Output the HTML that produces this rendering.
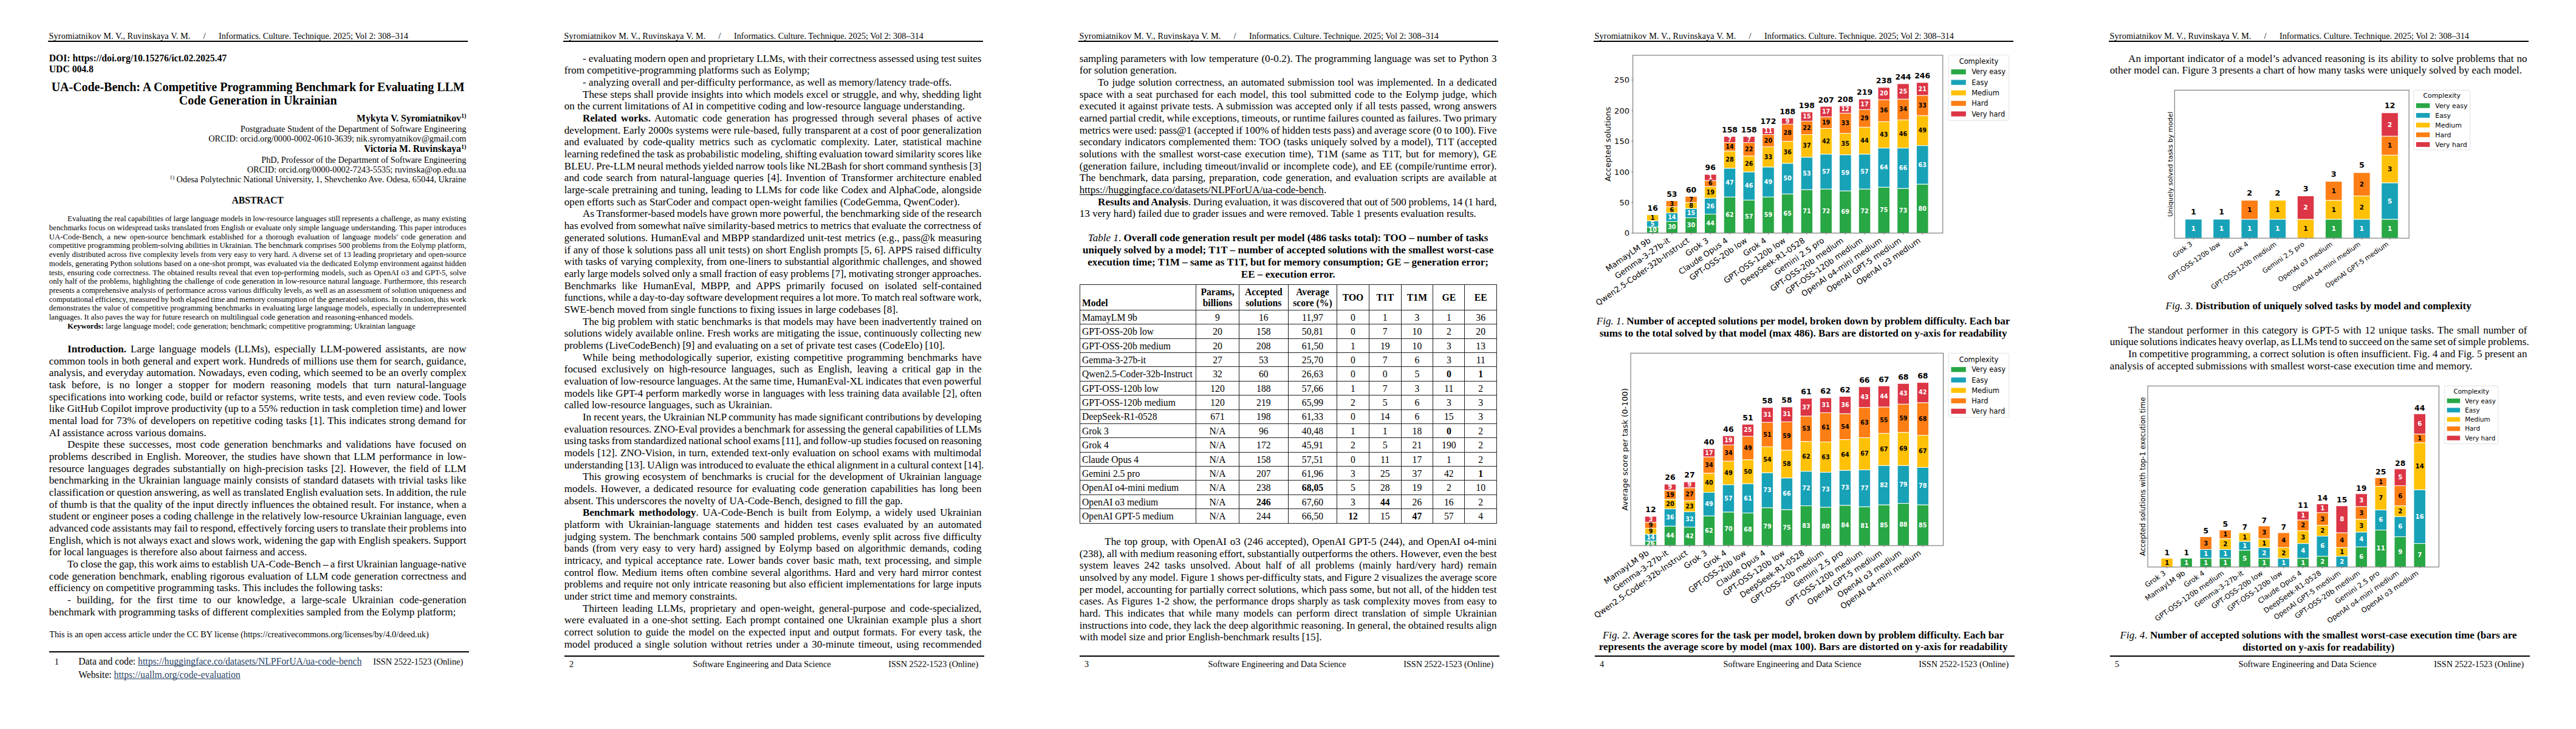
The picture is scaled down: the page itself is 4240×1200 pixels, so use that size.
<!DOCTYPE html><html><head><meta charset="utf-8"><title>UA-Code-Bench</title><style>
*{margin:0;padding:0;box-sizing:border-box}
html,body{width:4240px;height:1200px;overflow:hidden;background:#fff}
body{position:relative;font-family:"Liberation Serif","Times New Roman",serif;color:#000}
.l{position:absolute;white-space:nowrap;line-height:1}
.rule{position:absolute;height:2px;background:#000}
.sup{font-size:0.65em;position:relative;top:-0.55em}
.lnk{color:#2a4466;text-decoration:underline;text-decoration-thickness:1px;text-underline-offset:1.4px;text-decoration-skip-ink:none}
u{text-decoration-thickness:1px;text-underline-offset:1.6px;text-decoration-skip-ink:none}
.pg{position:absolute;top:0;width:848px;height:1200px}
svg text{font-family:"DejaVu Sans",sans-serif}
</style></head><body>
<div class="rule" style="left:78.80px;top:67.0px;width:690.85px"></div>
<div class="rule" style="left:926.80px;top:67.0px;width:690.85px"></div>
<div class="rule" style="left:928.90px;top:1079.0px;width:690.90px"></div>
<div class="rule" style="left:1774.80px;top:67.0px;width:690.85px"></div>
<div class="rule" style="left:1776.90px;top:1079.0px;width:690.90px"></div>
<div class="rule" style="left:2622.80px;top:67.0px;width:690.85px"></div>
<div class="rule" style="left:2624.90px;top:1079.0px;width:690.90px"></div>
<div class="rule" style="left:3470.80px;top:67.0px;width:690.85px"></div>
<div class="rule" style="left:3472.90px;top:1079.0px;width:690.90px"></div>
<div class="rule" style="left:80.90px;top:1072.2px;width:690.90px"></div>
<div style="position:absolute;left:1777px;top:468px;width:687px;height:1px;background:#202020"></div>
<div style="position:absolute;left:1777px;top:510px;width:687px;height:1px;background:#202020"></div>
<div style="position:absolute;left:1777px;top:533px;width:687px;height:1px;background:#202020"></div>
<div style="position:absolute;left:1777px;top:557px;width:687px;height:1px;background:#202020"></div>
<div style="position:absolute;left:1777px;top:580px;width:687px;height:1px;background:#202020"></div>
<div style="position:absolute;left:1777px;top:603px;width:687px;height:1px;background:#202020"></div>
<div style="position:absolute;left:1777px;top:627px;width:687px;height:1px;background:#202020"></div>
<div style="position:absolute;left:1777px;top:650px;width:687px;height:1px;background:#202020"></div>
<div style="position:absolute;left:1777px;top:674px;width:687px;height:1px;background:#202020"></div>
<div style="position:absolute;left:1777px;top:697px;width:687px;height:1px;background:#202020"></div>
<div style="position:absolute;left:1777px;top:720px;width:687px;height:1px;background:#202020"></div>
<div style="position:absolute;left:1777px;top:744px;width:687px;height:1px;background:#202020"></div>
<div style="position:absolute;left:1777px;top:767px;width:687px;height:1px;background:#202020"></div>
<div style="position:absolute;left:1777px;top:790px;width:687px;height:1px;background:#202020"></div>
<div style="position:absolute;left:1777px;top:814px;width:687px;height:1px;background:#202020"></div>
<div style="position:absolute;left:1777px;top:837px;width:687px;height:1px;background:#202020"></div>
<div style="position:absolute;left:1777px;top:861px;width:687px;height:1px;background:#202020"></div>
<div style="position:absolute;left:1777px;top:468px;width:1px;height:394px;background:#202020"></div>
<div style="position:absolute;left:1968px;top:468px;width:1px;height:394px;background:#202020"></div>
<div style="position:absolute;left:2039px;top:468px;width:1px;height:394px;background:#202020"></div>
<div style="position:absolute;left:2120px;top:468px;width:1px;height:394px;background:#202020"></div>
<div style="position:absolute;left:2200px;top:468px;width:1px;height:394px;background:#202020"></div>
<div style="position:absolute;left:2253px;top:468px;width:1px;height:394px;background:#202020"></div>
<div style="position:absolute;left:2306px;top:468px;width:1px;height:394px;background:#202020"></div>
<div style="position:absolute;left:2358px;top:468px;width:1px;height:394px;background:#202020"></div>
<div style="position:absolute;left:2410px;top:468px;width:1px;height:394px;background:#202020"></div>
<div style="position:absolute;left:2463px;top:468px;width:1px;height:394px;background:#202020"></div>
<svg style="position:absolute;left:0;top:0" width="4240" height="1200" viewBox="0 0 4240 1200">
<rect x="2710.35" y="373.62" width="19.60" height="10.08" fill="#28a745" stroke="#fff" stroke-width="1.0"/>
<rect x="2710.35" y="363.55" width="19.60" height="10.08" fill="#17a2b8" stroke="#fff" stroke-width="1.0"/>
<rect x="2710.35" y="353.47" width="19.60" height="10.08" fill="#ffc107" stroke="#fff" stroke-width="1.0"/>
<text x="2720.15" y="346.87" font-size="12.5" font-weight="bold" fill="#000" text-anchor="middle">16</text>
<line x1="2720.15" y1="383.70" x2="2720.15" y2="386.10" stroke="#444" stroke-width="0.8"/>
<text transform="translate(2718.05,397.90) rotate(-35)" font-size="13.0" fill="#000" text-anchor="end">MamayLM 9b</text>
<rect x="2742.07" y="364.56" width="19.60" height="19.14" fill="#28a745" stroke="#fff" stroke-width="1.0"/>
<rect x="2742.07" y="350.45" width="19.60" height="14.11" fill="#17a2b8" stroke="#fff" stroke-width="1.0"/>
<rect x="2742.07" y="340.37" width="19.60" height="10.08" fill="#ffc107" stroke="#fff" stroke-width="1.0"/>
<rect x="2742.07" y="330.30" width="19.60" height="10.08" fill="#fd7e14" stroke="#fff" stroke-width="1.0"/>
<text x="2751.87" y="323.70" font-size="12.5" font-weight="bold" fill="#000" text-anchor="middle">53</text>
<line x1="2751.87" y1="383.70" x2="2751.87" y2="386.10" stroke="#444" stroke-width="0.8"/>
<text transform="translate(2749.77,397.90) rotate(-35)" font-size="13.0" fill="#000" text-anchor="end">Gemma-3-27b-it</text>
<rect x="2773.79" y="358.51" width="19.60" height="25.19" fill="#28a745" stroke="#fff" stroke-width="1.0"/>
<rect x="2773.79" y="343.40" width="19.60" height="15.11" fill="#17a2b8" stroke="#fff" stroke-width="1.0"/>
<rect x="2773.79" y="333.32" width="19.60" height="10.08" fill="#ffc107" stroke="#fff" stroke-width="1.0"/>
<rect x="2773.79" y="323.24" width="19.60" height="10.08" fill="#fd7e14" stroke="#fff" stroke-width="1.0"/>
<text x="2783.59" y="316.64" font-size="12.5" font-weight="bold" fill="#000" text-anchor="middle">60</text>
<line x1="2783.59" y1="383.70" x2="2783.59" y2="386.10" stroke="#444" stroke-width="0.8"/>
<text transform="translate(2781.49,397.90) rotate(-35)" font-size="13.0" fill="#000" text-anchor="end">Qwen2.5-Coder-32b-Instruct</text>
<rect x="2805.51" y="352.46" width="19.60" height="31.24" fill="#28a745" stroke="#fff" stroke-width="1.0"/>
<rect x="2805.51" y="326.27" width="19.60" height="26.20" fill="#17a2b8" stroke="#fff" stroke-width="1.0"/>
<rect x="2805.51" y="307.12" width="19.60" height="19.14" fill="#ffc107" stroke="#fff" stroke-width="1.0"/>
<rect x="2805.51" y="297.05" width="19.60" height="10.08" fill="#fd7e14" stroke="#fff" stroke-width="1.0"/>
<rect x="2805.51" y="286.97" width="19.60" height="10.08" fill="#dc3545" stroke="#fff" stroke-width="1.0"/>
<text x="2815.31" y="280.37" font-size="12.5" font-weight="bold" fill="#000" text-anchor="middle">96</text>
<line x1="2815.31" y1="383.70" x2="2815.31" y2="386.10" stroke="#444" stroke-width="0.8"/>
<text transform="translate(2813.21,397.90) rotate(-35)" font-size="13.0" fill="#000" text-anchor="end">Grok 3</text>
<rect x="2837.23" y="324.25" width="19.60" height="59.45" fill="#28a745" stroke="#fff" stroke-width="1.0"/>
<rect x="2837.23" y="276.89" width="19.60" height="47.36" fill="#17a2b8" stroke="#fff" stroke-width="1.0"/>
<rect x="2837.23" y="248.68" width="19.60" height="28.21" fill="#ffc107" stroke="#fff" stroke-width="1.0"/>
<rect x="2837.23" y="234.58" width="19.60" height="14.11" fill="#fd7e14" stroke="#fff" stroke-width="1.0"/>
<rect x="2837.23" y="224.50" width="19.60" height="10.08" fill="#dc3545" stroke="#fff" stroke-width="1.0"/>
<text x="2847.03" y="217.90" font-size="12.5" font-weight="bold" fill="#000" text-anchor="middle">158</text>
<line x1="2847.03" y1="383.70" x2="2847.03" y2="386.10" stroke="#444" stroke-width="0.8"/>
<text transform="translate(2844.93,397.90) rotate(-35)" font-size="13.0" fill="#000" text-anchor="end">Claude Opus 4</text>
<rect x="2868.95" y="329.29" width="19.60" height="54.41" fill="#28a745" stroke="#fff" stroke-width="1.0"/>
<rect x="2868.95" y="282.94" width="19.60" height="46.35" fill="#17a2b8" stroke="#fff" stroke-width="1.0"/>
<rect x="2868.95" y="256.74" width="19.60" height="26.20" fill="#ffc107" stroke="#fff" stroke-width="1.0"/>
<rect x="2868.95" y="234.58" width="19.60" height="22.17" fill="#fd7e14" stroke="#fff" stroke-width="1.0"/>
<rect x="2868.95" y="224.50" width="19.60" height="10.08" fill="#dc3545" stroke="#fff" stroke-width="1.0"/>
<text x="2878.75" y="217.90" font-size="12.5" font-weight="bold" fill="#000" text-anchor="middle">158</text>
<line x1="2878.75" y1="383.70" x2="2878.75" y2="386.10" stroke="#444" stroke-width="0.8"/>
<text transform="translate(2876.65,397.90) rotate(-35)" font-size="13.0" fill="#000" text-anchor="end">GPT-OSS-20b low</text>
<rect x="2900.67" y="324.25" width="19.60" height="59.45" fill="#28a745" stroke="#fff" stroke-width="1.0"/>
<rect x="2900.67" y="274.88" width="19.60" height="49.37" fill="#17a2b8" stroke="#fff" stroke-width="1.0"/>
<rect x="2900.67" y="241.63" width="19.60" height="33.25" fill="#ffc107" stroke="#fff" stroke-width="1.0"/>
<rect x="2900.67" y="221.48" width="19.60" height="20.15" fill="#fd7e14" stroke="#fff" stroke-width="1.0"/>
<rect x="2900.67" y="210.39" width="19.60" height="11.08" fill="#dc3545" stroke="#fff" stroke-width="1.0"/>
<text x="2910.47" y="203.79" font-size="12.5" font-weight="bold" fill="#000" text-anchor="middle">172</text>
<line x1="2910.47" y1="383.70" x2="2910.47" y2="386.10" stroke="#444" stroke-width="0.8"/>
<text transform="translate(2908.37,397.90) rotate(-35)" font-size="13.0" fill="#000" text-anchor="end">Grok 4</text>
<rect x="2932.39" y="319.21" width="19.60" height="64.49" fill="#28a745" stroke="#fff" stroke-width="1.0"/>
<rect x="2932.39" y="268.83" width="19.60" height="50.38" fill="#17a2b8" stroke="#fff" stroke-width="1.0"/>
<rect x="2932.39" y="232.56" width="19.60" height="36.27" fill="#ffc107" stroke="#fff" stroke-width="1.0"/>
<rect x="2932.39" y="204.35" width="19.60" height="28.21" fill="#fd7e14" stroke="#fff" stroke-width="1.0"/>
<rect x="2932.39" y="194.27" width="19.60" height="10.08" fill="#dc3545" stroke="#fff" stroke-width="1.0"/>
<text x="2942.19" y="187.67" font-size="12.5" font-weight="bold" fill="#000" text-anchor="middle">188</text>
<line x1="2942.19" y1="383.70" x2="2942.19" y2="386.10" stroke="#444" stroke-width="0.8"/>
<text transform="translate(2940.09,397.90) rotate(-35)" font-size="13.0" fill="#000" text-anchor="end">GPT-OSS-120b low</text>
<rect x="2964.11" y="312.16" width="19.60" height="71.54" fill="#28a745" stroke="#fff" stroke-width="1.0"/>
<rect x="2964.11" y="258.76" width="19.60" height="53.40" fill="#17a2b8" stroke="#fff" stroke-width="1.0"/>
<rect x="2964.11" y="221.48" width="19.60" height="37.28" fill="#ffc107" stroke="#fff" stroke-width="1.0"/>
<rect x="2964.11" y="199.31" width="19.60" height="22.17" fill="#fd7e14" stroke="#fff" stroke-width="1.0"/>
<rect x="2964.11" y="184.20" width="19.60" height="15.11" fill="#dc3545" stroke="#fff" stroke-width="1.0"/>
<text x="2973.91" y="177.60" font-size="12.5" font-weight="bold" fill="#000" text-anchor="middle">198</text>
<line x1="2973.91" y1="383.70" x2="2973.91" y2="386.10" stroke="#444" stroke-width="0.8"/>
<text transform="translate(2971.81,397.90) rotate(-35)" font-size="13.0" fill="#000" text-anchor="end">DeepSeek-R1-0528</text>
<rect x="2995.83" y="311.15" width="19.60" height="72.55" fill="#28a745" stroke="#fff" stroke-width="1.0"/>
<rect x="2995.83" y="253.72" width="19.60" height="57.43" fill="#17a2b8" stroke="#fff" stroke-width="1.0"/>
<rect x="2995.83" y="211.40" width="19.60" height="42.32" fill="#ffc107" stroke="#fff" stroke-width="1.0"/>
<rect x="2995.83" y="192.26" width="19.60" height="19.14" fill="#fd7e14" stroke="#fff" stroke-width="1.0"/>
<rect x="2995.83" y="175.13" width="19.60" height="17.13" fill="#dc3545" stroke="#fff" stroke-width="1.0"/>
<text x="3005.63" y="168.53" font-size="12.5" font-weight="bold" fill="#000" text-anchor="middle">207</text>
<line x1="3005.63" y1="383.70" x2="3005.63" y2="386.10" stroke="#444" stroke-width="0.8"/>
<text transform="translate(3003.53,397.90) rotate(-35)" font-size="13.0" fill="#000" text-anchor="end">Gemini 2.5 pro</text>
<rect x="3027.55" y="314.18" width="19.60" height="69.52" fill="#28a745" stroke="#fff" stroke-width="1.0"/>
<rect x="3027.55" y="254.73" width="19.60" height="59.45" fill="#17a2b8" stroke="#fff" stroke-width="1.0"/>
<rect x="3027.55" y="219.46" width="19.60" height="35.27" fill="#ffc107" stroke="#fff" stroke-width="1.0"/>
<rect x="3027.55" y="186.21" width="19.60" height="33.25" fill="#fd7e14" stroke="#fff" stroke-width="1.0"/>
<rect x="3027.55" y="174.12" width="19.60" height="12.09" fill="#dc3545" stroke="#fff" stroke-width="1.0"/>
<text x="3037.35" y="167.52" font-size="12.5" font-weight="bold" fill="#000" text-anchor="middle">208</text>
<line x1="3037.35" y1="383.70" x2="3037.35" y2="386.10" stroke="#444" stroke-width="0.8"/>
<text transform="translate(3035.25,397.90) rotate(-35)" font-size="13.0" fill="#000" text-anchor="end">GPT-OSS-20b medium</text>
<rect x="3059.27" y="311.15" width="19.60" height="72.55" fill="#28a745" stroke="#fff" stroke-width="1.0"/>
<rect x="3059.27" y="253.72" width="19.60" height="57.43" fill="#17a2b8" stroke="#fff" stroke-width="1.0"/>
<rect x="3059.27" y="209.39" width="19.60" height="44.33" fill="#ffc107" stroke="#fff" stroke-width="1.0"/>
<rect x="3059.27" y="180.16" width="19.60" height="29.22" fill="#fd7e14" stroke="#fff" stroke-width="1.0"/>
<rect x="3059.27" y="163.04" width="19.60" height="17.13" fill="#dc3545" stroke="#fff" stroke-width="1.0"/>
<text x="3069.07" y="156.44" font-size="12.5" font-weight="bold" fill="#000" text-anchor="middle">219</text>
<line x1="3069.07" y1="383.70" x2="3069.07" y2="386.10" stroke="#444" stroke-width="0.8"/>
<text transform="translate(3066.97,397.90) rotate(-35)" font-size="13.0" fill="#000" text-anchor="end">GPT-OSS-120b medium</text>
<rect x="3090.99" y="308.13" width="19.60" height="75.57" fill="#28a745" stroke="#fff" stroke-width="1.0"/>
<rect x="3090.99" y="243.64" width="19.60" height="64.49" fill="#17a2b8" stroke="#fff" stroke-width="1.0"/>
<rect x="3090.99" y="200.32" width="19.60" height="43.33" fill="#ffc107" stroke="#fff" stroke-width="1.0"/>
<rect x="3090.99" y="164.04" width="19.60" height="36.27" fill="#fd7e14" stroke="#fff" stroke-width="1.0"/>
<rect x="3090.99" y="143.89" width="19.60" height="20.15" fill="#dc3545" stroke="#fff" stroke-width="1.0"/>
<text x="3100.79" y="137.29" font-size="12.5" font-weight="bold" fill="#000" text-anchor="middle">238</text>
<line x1="3100.79" y1="383.70" x2="3100.79" y2="386.10" stroke="#444" stroke-width="0.8"/>
<text transform="translate(3098.69,397.90) rotate(-35)" font-size="13.0" fill="#000" text-anchor="end">OpenAI o4-mini medium</text>
<rect x="3122.71" y="310.15" width="19.60" height="73.55" fill="#28a745" stroke="#fff" stroke-width="1.0"/>
<rect x="3122.71" y="243.64" width="19.60" height="66.50" fill="#17a2b8" stroke="#fff" stroke-width="1.0"/>
<rect x="3122.71" y="197.29" width="19.60" height="46.35" fill="#ffc107" stroke="#fff" stroke-width="1.0"/>
<rect x="3122.71" y="163.04" width="19.60" height="34.26" fill="#fd7e14" stroke="#fff" stroke-width="1.0"/>
<rect x="3122.71" y="137.85" width="19.60" height="25.19" fill="#dc3545" stroke="#fff" stroke-width="1.0"/>
<text x="3132.51" y="131.25" font-size="12.5" font-weight="bold" fill="#000" text-anchor="middle">244</text>
<line x1="3132.51" y1="383.70" x2="3132.51" y2="386.10" stroke="#444" stroke-width="0.8"/>
<text transform="translate(3130.41,397.90) rotate(-35)" font-size="13.0" fill="#000" text-anchor="end">OpenAI GPT-5 medium</text>
<rect x="3154.43" y="303.09" width="19.60" height="80.61" fill="#28a745" stroke="#fff" stroke-width="1.0"/>
<rect x="3154.43" y="239.61" width="19.60" height="63.48" fill="#17a2b8" stroke="#fff" stroke-width="1.0"/>
<rect x="3154.43" y="190.24" width="19.60" height="49.37" fill="#ffc107" stroke="#fff" stroke-width="1.0"/>
<rect x="3154.43" y="156.99" width="19.60" height="33.25" fill="#fd7e14" stroke="#fff" stroke-width="1.0"/>
<rect x="3154.43" y="135.83" width="19.60" height="21.16" fill="#dc3545" stroke="#fff" stroke-width="1.0"/>
<text x="3164.23" y="129.23" font-size="12.5" font-weight="bold" fill="#000" text-anchor="middle">246</text>
<line x1="3164.23" y1="383.70" x2="3164.23" y2="386.10" stroke="#444" stroke-width="0.8"/>
<text transform="translate(3162.13,397.90) rotate(-35)" font-size="13.0" fill="#000" text-anchor="end">OpenAI o3 medium</text>
<text x="2720.15" y="381.96" font-size="9.7" font-weight="bold" fill="#fff" text-anchor="middle">10</text>
<text x="2720.15" y="371.88" font-size="9.7" font-weight="bold" fill="#fff" text-anchor="middle">5</text>
<text x="2720.15" y="361.81" font-size="9.7" font-weight="bold" fill="#000" text-anchor="middle">1</text>
<text x="2751.87" y="377.43" font-size="9.7" font-weight="bold" fill="#fff" text-anchor="middle">30</text>
<text x="2751.87" y="360.80" font-size="9.7" font-weight="bold" fill="#fff" text-anchor="middle">14</text>
<text x="2751.87" y="348.71" font-size="9.7" font-weight="bold" fill="#000" text-anchor="middle">6</text>
<text x="2751.87" y="338.63" font-size="9.7" font-weight="bold" fill="#000" text-anchor="middle">3</text>
<text x="2783.59" y="374.40" font-size="9.7" font-weight="bold" fill="#fff" text-anchor="middle">30</text>
<text x="2783.59" y="354.25" font-size="9.7" font-weight="bold" fill="#fff" text-anchor="middle">15</text>
<text x="2783.59" y="341.66" font-size="9.7" font-weight="bold" fill="#000" text-anchor="middle">8</text>
<text x="2783.59" y="331.58" font-size="9.7" font-weight="bold" fill="#000" text-anchor="middle">7</text>
<text x="2815.31" y="371.38" font-size="9.7" font-weight="bold" fill="#fff" text-anchor="middle">44</text>
<text x="2815.31" y="342.66" font-size="9.7" font-weight="bold" fill="#fff" text-anchor="middle">26</text>
<text x="2815.31" y="319.99" font-size="9.7" font-weight="bold" fill="#000" text-anchor="middle">19</text>
<text x="2815.31" y="305.38" font-size="9.7" font-weight="bold" fill="#000" text-anchor="middle">6</text>
<text x="2815.31" y="295.31" font-size="9.7" font-weight="bold" fill="#fff" text-anchor="middle">1</text>
<text x="2847.03" y="357.27" font-size="9.7" font-weight="bold" fill="#fff" text-anchor="middle">62</text>
<text x="2847.03" y="303.87" font-size="9.7" font-weight="bold" fill="#fff" text-anchor="middle">47</text>
<text x="2847.03" y="266.09" font-size="9.7" font-weight="bold" fill="#000" text-anchor="middle">28</text>
<text x="2847.03" y="244.93" font-size="9.7" font-weight="bold" fill="#000" text-anchor="middle">14</text>
<text x="2847.03" y="232.84" font-size="9.7" font-weight="bold" fill="#fff" text-anchor="middle">7</text>
<text x="2878.75" y="359.79" font-size="9.7" font-weight="bold" fill="#fff" text-anchor="middle">57</text>
<text x="2878.75" y="309.41" font-size="9.7" font-weight="bold" fill="#fff" text-anchor="middle">46</text>
<text x="2878.75" y="273.14" font-size="9.7" font-weight="bold" fill="#000" text-anchor="middle">26</text>
<text x="2878.75" y="248.96" font-size="9.7" font-weight="bold" fill="#000" text-anchor="middle">22</text>
<text x="2878.75" y="232.84" font-size="9.7" font-weight="bold" fill="#fff" text-anchor="middle">7</text>
<text x="2910.47" y="357.27" font-size="9.7" font-weight="bold" fill="#fff" text-anchor="middle">59</text>
<text x="2910.47" y="302.86" font-size="9.7" font-weight="bold" fill="#fff" text-anchor="middle">49</text>
<text x="2910.47" y="261.55" font-size="9.7" font-weight="bold" fill="#000" text-anchor="middle">33</text>
<text x="2910.47" y="234.85" font-size="9.7" font-weight="bold" fill="#000" text-anchor="middle">20</text>
<text x="2910.47" y="219.23" font-size="9.7" font-weight="bold" fill="#fff" text-anchor="middle">11</text>
<text x="2942.19" y="354.75" font-size="9.7" font-weight="bold" fill="#fff" text-anchor="middle">65</text>
<text x="2942.19" y="297.32" font-size="9.7" font-weight="bold" fill="#fff" text-anchor="middle">50</text>
<text x="2942.19" y="253.99" font-size="9.7" font-weight="bold" fill="#000" text-anchor="middle">36</text>
<text x="2942.19" y="221.75" font-size="9.7" font-weight="bold" fill="#000" text-anchor="middle">28</text>
<text x="2942.19" y="202.61" font-size="9.7" font-weight="bold" fill="#fff" text-anchor="middle">9</text>
<text x="2973.91" y="351.23" font-size="9.7" font-weight="bold" fill="#fff" text-anchor="middle">71</text>
<text x="2973.91" y="288.76" font-size="9.7" font-weight="bold" fill="#fff" text-anchor="middle">53</text>
<text x="2973.91" y="243.41" font-size="9.7" font-weight="bold" fill="#000" text-anchor="middle">37</text>
<text x="2973.91" y="213.69" font-size="9.7" font-weight="bold" fill="#000" text-anchor="middle">22</text>
<text x="2973.91" y="195.05" font-size="9.7" font-weight="bold" fill="#fff" text-anchor="middle">15</text>
<text x="3005.63" y="350.72" font-size="9.7" font-weight="bold" fill="#fff" text-anchor="middle">72</text>
<text x="3005.63" y="285.73" font-size="9.7" font-weight="bold" fill="#fff" text-anchor="middle">57</text>
<text x="3005.63" y="235.86" font-size="9.7" font-weight="bold" fill="#000" text-anchor="middle">42</text>
<text x="3005.63" y="205.13" font-size="9.7" font-weight="bold" fill="#000" text-anchor="middle">19</text>
<text x="3005.63" y="186.99" font-size="9.7" font-weight="bold" fill="#fff" text-anchor="middle">17</text>
<text x="3037.35" y="352.24" font-size="9.7" font-weight="bold" fill="#fff" text-anchor="middle">69</text>
<text x="3037.35" y="287.75" font-size="9.7" font-weight="bold" fill="#fff" text-anchor="middle">59</text>
<text x="3037.35" y="240.39" font-size="9.7" font-weight="bold" fill="#000" text-anchor="middle">35</text>
<text x="3037.35" y="206.13" font-size="9.7" font-weight="bold" fill="#000" text-anchor="middle">33</text>
<text x="3037.35" y="183.46" font-size="9.7" font-weight="bold" fill="#fff" text-anchor="middle">12</text>
<text x="3069.07" y="350.72" font-size="9.7" font-weight="bold" fill="#fff" text-anchor="middle">72</text>
<text x="3069.07" y="285.73" font-size="9.7" font-weight="bold" fill="#fff" text-anchor="middle">57</text>
<text x="3069.07" y="234.85" font-size="9.7" font-weight="bold" fill="#000" text-anchor="middle">44</text>
<text x="3069.07" y="198.07" font-size="9.7" font-weight="bold" fill="#000" text-anchor="middle">29</text>
<text x="3069.07" y="174.90" font-size="9.7" font-weight="bold" fill="#fff" text-anchor="middle">17</text>
<text x="3100.79" y="349.21" font-size="9.7" font-weight="bold" fill="#fff" text-anchor="middle">75</text>
<text x="3100.79" y="279.18" font-size="9.7" font-weight="bold" fill="#fff" text-anchor="middle">64</text>
<text x="3100.79" y="225.28" font-size="9.7" font-weight="bold" fill="#000" text-anchor="middle">43</text>
<text x="3100.79" y="185.48" font-size="9.7" font-weight="bold" fill="#000" text-anchor="middle">36</text>
<text x="3100.79" y="157.27" font-size="9.7" font-weight="bold" fill="#fff" text-anchor="middle">20</text>
<text x="3132.51" y="350.22" font-size="9.7" font-weight="bold" fill="#fff" text-anchor="middle">73</text>
<text x="3132.51" y="280.19" font-size="9.7" font-weight="bold" fill="#fff" text-anchor="middle">66</text>
<text x="3132.51" y="223.77" font-size="9.7" font-weight="bold" fill="#000" text-anchor="middle">46</text>
<text x="3132.51" y="183.46" font-size="9.7" font-weight="bold" fill="#000" text-anchor="middle">34</text>
<text x="3132.51" y="153.74" font-size="9.7" font-weight="bold" fill="#fff" text-anchor="middle">25</text>
<text x="3164.23" y="346.69" font-size="9.7" font-weight="bold" fill="#fff" text-anchor="middle">80</text>
<text x="3164.23" y="274.65" font-size="9.7" font-weight="bold" fill="#fff" text-anchor="middle">63</text>
<text x="3164.23" y="218.22" font-size="9.7" font-weight="bold" fill="#000" text-anchor="middle">49</text>
<text x="3164.23" y="176.91" font-size="9.7" font-weight="bold" fill="#000" text-anchor="middle">33</text>
<text x="3164.23" y="149.71" font-size="9.7" font-weight="bold" fill="#fff" text-anchor="middle">21</text>
<line x1="2685.25" y1="383.70" x2="2687.65" y2="383.70" stroke="#444" stroke-width="0.8"/>
<text x="2681.95" y="388.38" font-size="13.0" fill="#000" text-anchor="end">0</text>
<line x1="2685.25" y1="333.32" x2="2687.65" y2="333.32" stroke="#444" stroke-width="0.8"/>
<text x="2681.95" y="338.00" font-size="13.0" fill="#000" text-anchor="end">50</text>
<line x1="2685.25" y1="282.94" x2="2687.65" y2="282.94" stroke="#444" stroke-width="0.8"/>
<text x="2681.95" y="287.62" font-size="13.0" fill="#000" text-anchor="end">100</text>
<line x1="2685.25" y1="232.56" x2="2687.65" y2="232.56" stroke="#444" stroke-width="0.8"/>
<text x="2681.95" y="237.24" font-size="13.0" fill="#000" text-anchor="end">150</text>
<line x1="2685.25" y1="182.18" x2="2687.65" y2="182.18" stroke="#444" stroke-width="0.8"/>
<text x="2681.95" y="186.86" font-size="13.0" fill="#000" text-anchor="end">200</text>
<line x1="2685.25" y1="131.80" x2="2687.65" y2="131.80" stroke="#444" stroke-width="0.8"/>
<text x="2681.95" y="136.48" font-size="13.0" fill="#000" text-anchor="end">250</text>
<rect x="2687.65" y="91.00" width="510.15" height="292.70" fill="none" stroke="#666" stroke-width="1.0"/>
<text transform="translate(2651.00,237.35) rotate(-90)" font-size="13.0" fill="#000" text-anchor="middle">Accepted solutions</text>
<rect x="3207.30" y="90.80" width="99.30" height="107.80" rx="2" fill="#fff" stroke="#dcdcdc" stroke-width="0.9"/>
<text x="3256.95" y="105.20" font-size="11.45" fill="#000" text-anchor="middle">Complexity</text>
<rect x="3211.50" y="114.20" width="24.30" height="8.20" fill="#28a745"/>
<text x="3245.20" y="122.42" font-size="11.45" fill="#000">Very easy</text>
<rect x="3211.50" y="131.50" width="24.30" height="8.20" fill="#17a2b8"/>
<text x="3245.20" y="139.72" font-size="11.45" fill="#000">Easy</text>
<rect x="3211.50" y="148.80" width="24.30" height="8.20" fill="#ffc107"/>
<text x="3245.20" y="157.02" font-size="11.45" fill="#000">Medium</text>
<rect x="3211.50" y="166.10" width="24.30" height="8.20" fill="#fd7e14"/>
<text x="3245.20" y="174.32" font-size="11.45" fill="#000">Hard</text>
<rect x="3211.50" y="183.40" width="24.30" height="8.20" fill="#dc3545"/>
<text x="3245.20" y="191.62" font-size="11.45" fill="#000">Very hard</text>
<rect x="2707.25" y="890.36" width="19.50" height="7.74" fill="#28a745" stroke="#fff" stroke-width="1.0"/>
<rect x="2707.25" y="879.31" width="19.50" height="11.06" fill="#17a2b8" stroke="#fff" stroke-width="1.0"/>
<rect x="2707.25" y="869.51" width="19.50" height="9.79" fill="#ffc107" stroke="#fff" stroke-width="1.0"/>
<rect x="2707.25" y="859.72" width="19.50" height="9.79" fill="#fd7e14" stroke="#fff" stroke-width="1.0"/>
<rect x="2707.25" y="849.93" width="19.50" height="9.79" fill="#dc3545" stroke="#fff" stroke-width="1.0"/>
<text x="2717.00" y="843.33" font-size="12.5" font-weight="bold" fill="#000" text-anchor="middle">12</text>
<line x1="2717.00" y1="898.10" x2="2717.00" y2="900.50" stroke="#444" stroke-width="0.8"/>
<text transform="translate(2714.90,912.30) rotate(-35)" font-size="13.0" fill="#000" text-anchor="end">MamayLM 9b</text>
<rect x="2739.24" y="866.04" width="19.50" height="32.06" fill="#28a745" stroke="#fff" stroke-width="1.0"/>
<rect x="2739.24" y="837.61" width="19.50" height="28.43" fill="#17a2b8" stroke="#fff" stroke-width="1.0"/>
<rect x="2739.24" y="821.81" width="19.50" height="15.79" fill="#ffc107" stroke="#fff" stroke-width="1.0"/>
<rect x="2739.24" y="806.81" width="19.50" height="15.00" fill="#fd7e14" stroke="#fff" stroke-width="1.0"/>
<rect x="2739.24" y="797.02" width="19.50" height="9.79" fill="#dc3545" stroke="#fff" stroke-width="1.0"/>
<text x="2748.99" y="790.42" font-size="12.5" font-weight="bold" fill="#000" text-anchor="middle">26</text>
<line x1="2748.99" y1="898.10" x2="2748.99" y2="900.50" stroke="#444" stroke-width="0.8"/>
<text transform="translate(2746.89,912.30) rotate(-35)" font-size="13.0" fill="#000" text-anchor="end">Gemma-3-27b-it</text>
<rect x="2771.23" y="867.62" width="19.50" height="30.48" fill="#28a745" stroke="#fff" stroke-width="1.0"/>
<rect x="2771.23" y="842.35" width="19.50" height="25.27" fill="#17a2b8" stroke="#fff" stroke-width="1.0"/>
<rect x="2771.23" y="824.18" width="19.50" height="18.16" fill="#ffc107" stroke="#fff" stroke-width="1.0"/>
<rect x="2771.23" y="802.86" width="19.50" height="21.32" fill="#fd7e14" stroke="#fff" stroke-width="1.0"/>
<rect x="2771.23" y="793.07" width="19.50" height="9.79" fill="#dc3545" stroke="#fff" stroke-width="1.0"/>
<text x="2780.98" y="786.47" font-size="12.5" font-weight="bold" fill="#000" text-anchor="middle">27</text>
<line x1="2780.98" y1="898.10" x2="2780.98" y2="900.50" stroke="#444" stroke-width="0.8"/>
<text transform="translate(2778.88,912.30) rotate(-35)" font-size="13.0" fill="#000" text-anchor="end">Qwen2.5-Coder-32b-Instruct</text>
<rect x="2803.22" y="849.14" width="19.50" height="48.96" fill="#28a745" stroke="#fff" stroke-width="1.0"/>
<rect x="2803.22" y="810.44" width="19.50" height="38.70" fill="#17a2b8" stroke="#fff" stroke-width="1.0"/>
<rect x="2803.22" y="778.86" width="19.50" height="31.59" fill="#ffc107" stroke="#fff" stroke-width="1.0"/>
<rect x="2803.22" y="752.01" width="19.50" height="26.85" fill="#fd7e14" stroke="#fff" stroke-width="1.0"/>
<rect x="2803.22" y="738.58" width="19.50" height="13.42" fill="#dc3545" stroke="#fff" stroke-width="1.0"/>
<text x="2812.97" y="731.98" font-size="12.5" font-weight="bold" fill="#000" text-anchor="middle">40</text>
<line x1="2812.97" y1="898.10" x2="2812.97" y2="900.50" stroke="#444" stroke-width="0.8"/>
<text transform="translate(2810.87,912.30) rotate(-35)" font-size="13.0" fill="#000" text-anchor="end">Grok 3</text>
<rect x="2835.21" y="842.82" width="19.50" height="55.28" fill="#28a745" stroke="#fff" stroke-width="1.0"/>
<rect x="2835.21" y="797.81" width="19.50" height="45.01" fill="#17a2b8" stroke="#fff" stroke-width="1.0"/>
<rect x="2835.21" y="759.11" width="19.50" height="38.70" fill="#ffc107" stroke="#fff" stroke-width="1.0"/>
<rect x="2835.21" y="732.26" width="19.50" height="26.85" fill="#fd7e14" stroke="#fff" stroke-width="1.0"/>
<rect x="2835.21" y="717.26" width="19.50" height="15.00" fill="#dc3545" stroke="#fff" stroke-width="1.0"/>
<text x="2844.96" y="710.66" font-size="12.5" font-weight="bold" fill="#000" text-anchor="middle">46</text>
<line x1="2844.96" y1="898.10" x2="2844.96" y2="900.50" stroke="#444" stroke-width="0.8"/>
<text transform="translate(2842.86,912.30) rotate(-35)" font-size="13.0" fill="#000" text-anchor="end">Grok 4</text>
<rect x="2867.20" y="844.40" width="19.50" height="53.70" fill="#28a745" stroke="#fff" stroke-width="1.0"/>
<rect x="2867.20" y="796.23" width="19.50" height="48.17" fill="#17a2b8" stroke="#fff" stroke-width="1.0"/>
<rect x="2867.20" y="756.74" width="19.50" height="39.48" fill="#ffc107" stroke="#fff" stroke-width="1.0"/>
<rect x="2867.20" y="718.05" width="19.50" height="38.70" fill="#fd7e14" stroke="#fff" stroke-width="1.0"/>
<rect x="2867.20" y="698.31" width="19.50" height="19.74" fill="#dc3545" stroke="#fff" stroke-width="1.0"/>
<text x="2876.95" y="691.71" font-size="12.5" font-weight="bold" fill="#000" text-anchor="middle">51</text>
<line x1="2876.95" y1="898.10" x2="2876.95" y2="900.50" stroke="#444" stroke-width="0.8"/>
<text transform="translate(2874.85,912.30) rotate(-35)" font-size="13.0" fill="#000" text-anchor="end">GPT-OSS-20b low</text>
<rect x="2899.19" y="835.71" width="19.50" height="62.39" fill="#28a745" stroke="#fff" stroke-width="1.0"/>
<rect x="2899.19" y="778.07" width="19.50" height="57.65" fill="#17a2b8" stroke="#fff" stroke-width="1.0"/>
<rect x="2899.19" y="735.42" width="19.50" height="42.64" fill="#ffc107" stroke="#fff" stroke-width="1.0"/>
<rect x="2899.19" y="695.15" width="19.50" height="40.27" fill="#fd7e14" stroke="#fff" stroke-width="1.0"/>
<rect x="2899.19" y="670.67" width="19.50" height="24.48" fill="#dc3545" stroke="#fff" stroke-width="1.0"/>
<text x="2908.94" y="664.07" font-size="12.5" font-weight="bold" fill="#000" text-anchor="middle">58</text>
<line x1="2908.94" y1="898.10" x2="2908.94" y2="900.50" stroke="#444" stroke-width="0.8"/>
<text transform="translate(2906.84,912.30) rotate(-35)" font-size="13.0" fill="#000" text-anchor="end">Claude Opus 4</text>
<rect x="2931.18" y="838.87" width="19.50" height="59.23" fill="#28a745" stroke="#fff" stroke-width="1.0"/>
<rect x="2931.18" y="786.75" width="19.50" height="52.12" fill="#17a2b8" stroke="#fff" stroke-width="1.0"/>
<rect x="2931.18" y="740.95" width="19.50" height="45.80" fill="#ffc107" stroke="#fff" stroke-width="1.0"/>
<rect x="2931.18" y="694.36" width="19.50" height="46.59" fill="#fd7e14" stroke="#fff" stroke-width="1.0"/>
<rect x="2931.18" y="669.88" width="19.50" height="24.48" fill="#dc3545" stroke="#fff" stroke-width="1.0"/>
<text x="2940.93" y="663.28" font-size="12.5" font-weight="bold" fill="#000" text-anchor="middle">58</text>
<line x1="2940.93" y1="898.10" x2="2940.93" y2="900.50" stroke="#444" stroke-width="0.8"/>
<text transform="translate(2938.83,912.30) rotate(-35)" font-size="13.0" fill="#000" text-anchor="end">GPT-OSS-120b low</text>
<rect x="2963.17" y="832.55" width="19.50" height="65.55" fill="#28a745" stroke="#fff" stroke-width="1.0"/>
<rect x="2963.17" y="775.70" width="19.50" height="56.86" fill="#17a2b8" stroke="#fff" stroke-width="1.0"/>
<rect x="2963.17" y="726.74" width="19.50" height="48.96" fill="#ffc107" stroke="#fff" stroke-width="1.0"/>
<rect x="2963.17" y="684.88" width="19.50" height="41.85" fill="#fd7e14" stroke="#fff" stroke-width="1.0"/>
<rect x="2963.17" y="655.66" width="19.50" height="29.22" fill="#dc3545" stroke="#fff" stroke-width="1.0"/>
<text x="2972.92" y="649.06" font-size="12.5" font-weight="bold" fill="#000" text-anchor="middle">61</text>
<line x1="2972.92" y1="898.10" x2="2972.92" y2="900.50" stroke="#444" stroke-width="0.8"/>
<text transform="translate(2970.82,912.30) rotate(-35)" font-size="13.0" fill="#000" text-anchor="end">DeepSeek-R1-0528</text>
<rect x="2995.16" y="834.92" width="19.50" height="63.18" fill="#28a745" stroke="#fff" stroke-width="1.0"/>
<rect x="2995.16" y="777.28" width="19.50" height="57.65" fill="#17a2b8" stroke="#fff" stroke-width="1.0"/>
<rect x="2995.16" y="727.52" width="19.50" height="49.75" fill="#ffc107" stroke="#fff" stroke-width="1.0"/>
<rect x="2995.16" y="679.35" width="19.50" height="48.17" fill="#fd7e14" stroke="#fff" stroke-width="1.0"/>
<rect x="2995.16" y="654.87" width="19.50" height="24.48" fill="#dc3545" stroke="#fff" stroke-width="1.0"/>
<text x="3004.91" y="648.27" font-size="12.5" font-weight="bold" fill="#000" text-anchor="middle">62</text>
<line x1="3004.91" y1="898.10" x2="3004.91" y2="900.50" stroke="#444" stroke-width="0.8"/>
<text transform="translate(3002.81,912.30) rotate(-35)" font-size="13.0" fill="#000" text-anchor="end">GPT-OSS-20b medium</text>
<rect x="3027.15" y="831.77" width="19.50" height="66.33" fill="#28a745" stroke="#fff" stroke-width="1.0"/>
<rect x="3027.15" y="774.12" width="19.50" height="57.65" fill="#17a2b8" stroke="#fff" stroke-width="1.0"/>
<rect x="3027.15" y="723.58" width="19.50" height="50.54" fill="#ffc107" stroke="#fff" stroke-width="1.0"/>
<rect x="3027.15" y="680.93" width="19.50" height="42.64" fill="#fd7e14" stroke="#fff" stroke-width="1.0"/>
<rect x="3027.15" y="652.50" width="19.50" height="28.43" fill="#dc3545" stroke="#fff" stroke-width="1.0"/>
<text x="3036.90" y="645.90" font-size="12.5" font-weight="bold" fill="#000" text-anchor="middle">62</text>
<line x1="3036.90" y1="898.10" x2="3036.90" y2="900.50" stroke="#444" stroke-width="0.8"/>
<text transform="translate(3034.80,912.30) rotate(-35)" font-size="13.0" fill="#000" text-anchor="end">Gemini 2.5 pro</text>
<rect x="3059.14" y="834.13" width="19.50" height="63.97" fill="#28a745" stroke="#fff" stroke-width="1.0"/>
<rect x="3059.14" y="773.33" width="19.50" height="60.81" fill="#17a2b8" stroke="#fff" stroke-width="1.0"/>
<rect x="3059.14" y="720.42" width="19.50" height="52.91" fill="#ffc107" stroke="#fff" stroke-width="1.0"/>
<rect x="3059.14" y="670.67" width="19.50" height="49.75" fill="#fd7e14" stroke="#fff" stroke-width="1.0"/>
<rect x="3059.14" y="636.71" width="19.50" height="33.96" fill="#dc3545" stroke="#fff" stroke-width="1.0"/>
<text x="3068.89" y="630.11" font-size="12.5" font-weight="bold" fill="#000" text-anchor="middle">66</text>
<line x1="3068.89" y1="898.10" x2="3068.89" y2="900.50" stroke="#444" stroke-width="0.8"/>
<text transform="translate(3066.79,912.30) rotate(-35)" font-size="13.0" fill="#000" text-anchor="end">GPT-OSS-120b medium</text>
<rect x="3091.13" y="830.98" width="19.50" height="67.12" fill="#28a745" stroke="#fff" stroke-width="1.0"/>
<rect x="3091.13" y="766.22" width="19.50" height="64.76" fill="#17a2b8" stroke="#fff" stroke-width="1.0"/>
<rect x="3091.13" y="713.31" width="19.50" height="52.91" fill="#ffc107" stroke="#fff" stroke-width="1.0"/>
<rect x="3091.13" y="669.88" width="19.50" height="43.43" fill="#fd7e14" stroke="#fff" stroke-width="1.0"/>
<rect x="3091.13" y="635.13" width="19.50" height="34.75" fill="#dc3545" stroke="#fff" stroke-width="1.0"/>
<text x="3100.88" y="628.53" font-size="12.5" font-weight="bold" fill="#000" text-anchor="middle">67</text>
<line x1="3100.88" y1="898.10" x2="3100.88" y2="900.50" stroke="#444" stroke-width="0.8"/>
<text transform="translate(3098.78,912.30) rotate(-35)" font-size="13.0" fill="#000" text-anchor="end">OpenAI GPT-5 medium</text>
<rect x="3123.12" y="828.61" width="19.50" height="69.49" fill="#28a745" stroke="#fff" stroke-width="1.0"/>
<rect x="3123.12" y="766.22" width="19.50" height="62.39" fill="#17a2b8" stroke="#fff" stroke-width="1.0"/>
<rect x="3123.12" y="711.73" width="19.50" height="54.49" fill="#ffc107" stroke="#fff" stroke-width="1.0"/>
<rect x="3123.12" y="665.14" width="19.50" height="46.59" fill="#fd7e14" stroke="#fff" stroke-width="1.0"/>
<rect x="3123.12" y="631.18" width="19.50" height="33.96" fill="#dc3545" stroke="#fff" stroke-width="1.0"/>
<text x="3132.87" y="624.58" font-size="12.5" font-weight="bold" fill="#000" text-anchor="middle">68</text>
<line x1="3132.87" y1="898.10" x2="3132.87" y2="900.50" stroke="#444" stroke-width="0.8"/>
<text transform="translate(3130.77,912.30) rotate(-35)" font-size="13.0" fill="#000" text-anchor="end">OpenAI o3 medium</text>
<rect x="3155.11" y="830.98" width="19.50" height="67.12" fill="#28a745" stroke="#fff" stroke-width="1.0"/>
<rect x="3155.11" y="769.38" width="19.50" height="61.60" fill="#17a2b8" stroke="#fff" stroke-width="1.0"/>
<rect x="3155.11" y="716.47" width="19.50" height="52.91" fill="#ffc107" stroke="#fff" stroke-width="1.0"/>
<rect x="3155.11" y="662.77" width="19.50" height="53.70" fill="#fd7e14" stroke="#fff" stroke-width="1.0"/>
<rect x="3155.11" y="629.60" width="19.50" height="33.17" fill="#dc3545" stroke="#fff" stroke-width="1.0"/>
<text x="3164.86" y="623.00" font-size="12.5" font-weight="bold" fill="#000" text-anchor="middle">68</text>
<line x1="3164.86" y1="898.10" x2="3164.86" y2="900.50" stroke="#444" stroke-width="0.8"/>
<text transform="translate(3162.76,912.30) rotate(-35)" font-size="13.0" fill="#000" text-anchor="end">OpenAI o4-mini medium</text>
<text x="2717.00" y="897.53" font-size="9.7" font-weight="bold" fill="#fff" text-anchor="middle">26</text>
<text x="2717.00" y="888.13" font-size="9.7" font-weight="bold" fill="#fff" text-anchor="middle">14</text>
<text x="2717.00" y="877.71" font-size="9.7" font-weight="bold" fill="#000" text-anchor="middle">9</text>
<text x="2717.00" y="867.91" font-size="9.7" font-weight="bold" fill="#000" text-anchor="middle">9</text>
<text x="2717.00" y="858.12" font-size="9.7" font-weight="bold" fill="#fff" text-anchor="middle">3</text>
<text x="2748.99" y="885.37" font-size="9.7" font-weight="bold" fill="#fff" text-anchor="middle">44</text>
<text x="2748.99" y="855.12" font-size="9.7" font-weight="bold" fill="#fff" text-anchor="middle">36</text>
<text x="2748.99" y="833.01" font-size="9.7" font-weight="bold" fill="#000" text-anchor="middle">20</text>
<text x="2748.99" y="817.61" font-size="9.7" font-weight="bold" fill="#000" text-anchor="middle">19</text>
<text x="2748.99" y="805.21" font-size="9.7" font-weight="bold" fill="#fff" text-anchor="middle">9</text>
<text x="2780.98" y="886.16" font-size="9.7" font-weight="bold" fill="#fff" text-anchor="middle">42</text>
<text x="2780.98" y="858.28" font-size="9.7" font-weight="bold" fill="#fff" text-anchor="middle">32</text>
<text x="2780.98" y="836.56" font-size="9.7" font-weight="bold" fill="#000" text-anchor="middle">23</text>
<text x="2780.98" y="816.82" font-size="9.7" font-weight="bold" fill="#000" text-anchor="middle">27</text>
<text x="2780.98" y="801.26" font-size="9.7" font-weight="bold" fill="#fff" text-anchor="middle">9</text>
<text x="2812.97" y="876.92" font-size="9.7" font-weight="bold" fill="#fff" text-anchor="middle">62</text>
<text x="2812.97" y="833.09" font-size="9.7" font-weight="bold" fill="#fff" text-anchor="middle">49</text>
<text x="2812.97" y="797.95" font-size="9.7" font-weight="bold" fill="#000" text-anchor="middle">40</text>
<text x="2812.97" y="768.73" font-size="9.7" font-weight="bold" fill="#000" text-anchor="middle">34</text>
<text x="2812.97" y="748.59" font-size="9.7" font-weight="bold" fill="#fff" text-anchor="middle">17</text>
<text x="2844.96" y="873.76" font-size="9.7" font-weight="bold" fill="#fff" text-anchor="middle">70</text>
<text x="2844.96" y="823.61" font-size="9.7" font-weight="bold" fill="#fff" text-anchor="middle">57</text>
<text x="2844.96" y="781.76" font-size="9.7" font-weight="bold" fill="#000" text-anchor="middle">49</text>
<text x="2844.96" y="748.99" font-size="9.7" font-weight="bold" fill="#000" text-anchor="middle">34</text>
<text x="2844.96" y="728.06" font-size="9.7" font-weight="bold" fill="#fff" text-anchor="middle">19</text>
<text x="2876.95" y="874.55" font-size="9.7" font-weight="bold" fill="#fff" text-anchor="middle">68</text>
<text x="2876.95" y="823.61" font-size="9.7" font-weight="bold" fill="#fff" text-anchor="middle">61</text>
<text x="2876.95" y="779.78" font-size="9.7" font-weight="bold" fill="#000" text-anchor="middle">50</text>
<text x="2876.95" y="740.69" font-size="9.7" font-weight="bold" fill="#000" text-anchor="middle">49</text>
<text x="2876.95" y="711.48" font-size="9.7" font-weight="bold" fill="#fff" text-anchor="middle">25</text>
<text x="2908.94" y="870.20" font-size="9.7" font-weight="bold" fill="#fff" text-anchor="middle">79</text>
<text x="2908.94" y="810.19" font-size="9.7" font-weight="bold" fill="#fff" text-anchor="middle">73</text>
<text x="2908.94" y="760.04" font-size="9.7" font-weight="bold" fill="#000" text-anchor="middle">54</text>
<text x="2908.94" y="718.58" font-size="9.7" font-weight="bold" fill="#000" text-anchor="middle">51</text>
<text x="2908.94" y="686.20" font-size="9.7" font-weight="bold" fill="#fff" text-anchor="middle">31</text>
<text x="2940.93" y="871.78" font-size="9.7" font-weight="bold" fill="#fff" text-anchor="middle">75</text>
<text x="2940.93" y="816.11" font-size="9.7" font-weight="bold" fill="#fff" text-anchor="middle">66</text>
<text x="2940.93" y="767.15" font-size="9.7" font-weight="bold" fill="#000" text-anchor="middle">58</text>
<text x="2940.93" y="720.95" font-size="9.7" font-weight="bold" fill="#000" text-anchor="middle">59</text>
<text x="2940.93" y="685.42" font-size="9.7" font-weight="bold" fill="#fff" text-anchor="middle">31</text>
<text x="2972.92" y="868.63" font-size="9.7" font-weight="bold" fill="#fff" text-anchor="middle">83</text>
<text x="2972.92" y="807.42" font-size="9.7" font-weight="bold" fill="#fff" text-anchor="middle">72</text>
<text x="2972.92" y="754.51" font-size="9.7" font-weight="bold" fill="#000" text-anchor="middle">62</text>
<text x="2972.92" y="709.11" font-size="9.7" font-weight="bold" fill="#000" text-anchor="middle">53</text>
<text x="2972.92" y="673.57" font-size="9.7" font-weight="bold" fill="#fff" text-anchor="middle">37</text>
<text x="3004.91" y="869.81" font-size="9.7" font-weight="bold" fill="#fff" text-anchor="middle">80</text>
<text x="3004.91" y="809.40" font-size="9.7" font-weight="bold" fill="#fff" text-anchor="middle">73</text>
<text x="3004.91" y="755.70" font-size="9.7" font-weight="bold" fill="#000" text-anchor="middle">63</text>
<text x="3004.91" y="706.74" font-size="9.7" font-weight="bold" fill="#000" text-anchor="middle">61</text>
<text x="3004.91" y="670.41" font-size="9.7" font-weight="bold" fill="#fff" text-anchor="middle">31</text>
<text x="3036.90" y="868.23" font-size="9.7" font-weight="bold" fill="#fff" text-anchor="middle">84</text>
<text x="3036.90" y="806.24" font-size="9.7" font-weight="bold" fill="#fff" text-anchor="middle">73</text>
<text x="3036.90" y="752.14" font-size="9.7" font-weight="bold" fill="#000" text-anchor="middle">64</text>
<text x="3036.90" y="705.55" font-size="9.7" font-weight="bold" fill="#000" text-anchor="middle">54</text>
<text x="3036.90" y="670.02" font-size="9.7" font-weight="bold" fill="#fff" text-anchor="middle">36</text>
<text x="3068.89" y="869.42" font-size="9.7" font-weight="bold" fill="#fff" text-anchor="middle">81</text>
<text x="3068.89" y="807.03" font-size="9.7" font-weight="bold" fill="#fff" text-anchor="middle">77</text>
<text x="3068.89" y="750.17" font-size="9.7" font-weight="bold" fill="#000" text-anchor="middle">67</text>
<text x="3068.89" y="698.84" font-size="9.7" font-weight="bold" fill="#000" text-anchor="middle">63</text>
<text x="3068.89" y="656.99" font-size="9.7" font-weight="bold" fill="#fff" text-anchor="middle">43</text>
<text x="3100.88" y="867.84" font-size="9.7" font-weight="bold" fill="#fff" text-anchor="middle">85</text>
<text x="3100.88" y="801.90" font-size="9.7" font-weight="bold" fill="#fff" text-anchor="middle">82</text>
<text x="3100.88" y="743.06" font-size="9.7" font-weight="bold" fill="#000" text-anchor="middle">67</text>
<text x="3100.88" y="694.89" font-size="9.7" font-weight="bold" fill="#000" text-anchor="middle">55</text>
<text x="3100.88" y="655.80" font-size="9.7" font-weight="bold" fill="#fff" text-anchor="middle">44</text>
<text x="3132.87" y="866.65" font-size="9.7" font-weight="bold" fill="#fff" text-anchor="middle">88</text>
<text x="3132.87" y="800.71" font-size="9.7" font-weight="bold" fill="#fff" text-anchor="middle">79</text>
<text x="3132.87" y="742.27" font-size="9.7" font-weight="bold" fill="#000" text-anchor="middle">69</text>
<text x="3132.87" y="691.73" font-size="9.7" font-weight="bold" fill="#000" text-anchor="middle">59</text>
<text x="3132.87" y="651.46" font-size="9.7" font-weight="bold" fill="#fff" text-anchor="middle">43</text>
<text x="3164.86" y="867.84" font-size="9.7" font-weight="bold" fill="#fff" text-anchor="middle">85</text>
<text x="3164.86" y="803.48" font-size="9.7" font-weight="bold" fill="#fff" text-anchor="middle">78</text>
<text x="3164.86" y="746.22" font-size="9.7" font-weight="bold" fill="#000" text-anchor="middle">67</text>
<text x="3164.86" y="692.92" font-size="9.7" font-weight="bold" fill="#000" text-anchor="middle">68</text>
<text x="3164.86" y="649.48" font-size="9.7" font-weight="bold" fill="#fff" text-anchor="middle">42</text>
<rect x="2684.10" y="581.30" width="514.40" height="316.80" fill="none" stroke="#666" stroke-width="1.0"/>
<text transform="translate(2678.80,739.70) rotate(-90)" font-size="13.0" fill="#000" text-anchor="middle">Average score per task (0-100)</text>
<rect x="3207.30" y="581.30" width="99.30" height="105.90" rx="2" fill="#fff" stroke="#dcdcdc" stroke-width="0.9"/>
<text x="3256.95" y="595.50" font-size="11.45" fill="#000" text-anchor="middle">Complexity</text>
<rect x="3211.50" y="604.20" width="24.30" height="8.20" fill="#28a745"/>
<text x="3245.20" y="612.42" font-size="11.45" fill="#000">Very easy</text>
<rect x="3211.50" y="621.35" width="24.30" height="8.20" fill="#17a2b8"/>
<text x="3245.20" y="629.57" font-size="11.45" fill="#000">Easy</text>
<rect x="3211.50" y="638.50" width="24.30" height="8.20" fill="#ffc107"/>
<text x="3245.20" y="646.72" font-size="11.45" fill="#000">Medium</text>
<rect x="3211.50" y="655.65" width="24.30" height="8.20" fill="#fd7e14"/>
<text x="3245.20" y="663.87" font-size="11.45" fill="#000">Hard</text>
<rect x="3211.50" y="672.80" width="24.30" height="8.20" fill="#dc3545"/>
<text x="3245.20" y="681.02" font-size="11.45" fill="#000">Very hard</text>
<rect x="3596.60" y="360.90" width="27.60" height="31.20" fill="#17a2b8" stroke="#fff" stroke-width="1.0"/>
<text x="3610.40" y="352.90" font-size="12.7" font-weight="bold" fill="#000" text-anchor="middle">1</text>
<line x1="3610.40" y1="392.10" x2="3610.40" y2="394.30" stroke="#444" stroke-width="0.8"/>
<text transform="translate(3609.20,403.60) rotate(-35)" font-size="11.0" fill="#000" text-anchor="end">Grok 3</text>
<rect x="3642.76" y="360.90" width="27.60" height="31.20" fill="#17a2b8" stroke="#fff" stroke-width="1.0"/>
<text x="3656.56" y="352.90" font-size="12.7" font-weight="bold" fill="#000" text-anchor="middle">1</text>
<line x1="3656.56" y1="392.10" x2="3656.56" y2="394.30" stroke="#444" stroke-width="0.8"/>
<text transform="translate(3655.36,403.60) rotate(-35)" font-size="11.0" fill="#000" text-anchor="end">GPT-OSS-120b low</text>
<rect x="3688.92" y="360.90" width="27.60" height="31.20" fill="#17a2b8" stroke="#fff" stroke-width="1.0"/>
<rect x="3688.92" y="329.70" width="27.60" height="31.20" fill="#fd7e14" stroke="#fff" stroke-width="1.0"/>
<text x="3702.72" y="321.70" font-size="12.7" font-weight="bold" fill="#000" text-anchor="middle">2</text>
<line x1="3702.72" y1="392.10" x2="3702.72" y2="394.30" stroke="#444" stroke-width="0.8"/>
<text transform="translate(3701.52,403.60) rotate(-35)" font-size="11.0" fill="#000" text-anchor="end">Grok 4</text>
<rect x="3735.08" y="360.90" width="27.60" height="31.20" fill="#17a2b8" stroke="#fff" stroke-width="1.0"/>
<rect x="3735.08" y="329.70" width="27.60" height="31.20" fill="#ffc107" stroke="#fff" stroke-width="1.0"/>
<text x="3748.88" y="321.70" font-size="12.7" font-weight="bold" fill="#000" text-anchor="middle">2</text>
<line x1="3748.88" y1="392.10" x2="3748.88" y2="394.30" stroke="#444" stroke-width="0.8"/>
<text transform="translate(3747.68,403.60) rotate(-35)" font-size="11.0" fill="#000" text-anchor="end">GPT-OSS-120b medium</text>
<rect x="3781.24" y="360.90" width="27.60" height="31.20" fill="#ffc107" stroke="#fff" stroke-width="1.0"/>
<rect x="3781.24" y="322.50" width="27.60" height="38.40" fill="#dc3545" stroke="#fff" stroke-width="1.0"/>
<text x="3795.04" y="314.50" font-size="12.7" font-weight="bold" fill="#000" text-anchor="middle">3</text>
<line x1="3795.04" y1="392.10" x2="3795.04" y2="394.30" stroke="#444" stroke-width="0.8"/>
<text transform="translate(3793.84,403.60) rotate(-35)" font-size="11.0" fill="#000" text-anchor="end">Gemini 2.5 pro</text>
<rect x="3827.40" y="360.90" width="27.60" height="31.20" fill="#28a745" stroke="#fff" stroke-width="1.0"/>
<rect x="3827.40" y="329.70" width="27.60" height="31.20" fill="#ffc107" stroke="#fff" stroke-width="1.0"/>
<rect x="3827.40" y="298.50" width="27.60" height="31.20" fill="#fd7e14" stroke="#fff" stroke-width="1.0"/>
<text x="3841.20" y="290.50" font-size="12.7" font-weight="bold" fill="#000" text-anchor="middle">3</text>
<line x1="3841.20" y1="392.10" x2="3841.20" y2="394.30" stroke="#444" stroke-width="0.8"/>
<text transform="translate(3840.00,403.60) rotate(-35)" font-size="11.0" fill="#000" text-anchor="end">OpenAI o3 medium</text>
<rect x="3873.56" y="360.90" width="27.60" height="31.20" fill="#17a2b8" stroke="#fff" stroke-width="1.0"/>
<rect x="3873.56" y="322.50" width="27.60" height="38.40" fill="#ffc107" stroke="#fff" stroke-width="1.0"/>
<rect x="3873.56" y="284.10" width="27.60" height="38.40" fill="#fd7e14" stroke="#fff" stroke-width="1.0"/>
<text x="3887.36" y="276.10" font-size="12.7" font-weight="bold" fill="#000" text-anchor="middle">5</text>
<line x1="3887.36" y1="392.10" x2="3887.36" y2="394.30" stroke="#444" stroke-width="0.8"/>
<text transform="translate(3886.16,403.60) rotate(-35)" font-size="11.0" fill="#000" text-anchor="end">OpenAI o4-mini medium</text>
<rect x="3919.72" y="360.90" width="27.60" height="31.20" fill="#28a745" stroke="#fff" stroke-width="1.0"/>
<rect x="3919.72" y="300.90" width="27.60" height="60.00" fill="#17a2b8" stroke="#fff" stroke-width="1.0"/>
<rect x="3919.72" y="255.30" width="27.60" height="45.60" fill="#ffc107" stroke="#fff" stroke-width="1.0"/>
<rect x="3919.72" y="224.10" width="27.60" height="31.20" fill="#fd7e14" stroke="#fff" stroke-width="1.0"/>
<rect x="3919.72" y="185.70" width="27.60" height="38.40" fill="#dc3545" stroke="#fff" stroke-width="1.0"/>
<text x="3933.52" y="177.70" font-size="12.7" font-weight="bold" fill="#000" text-anchor="middle">12</text>
<line x1="3933.52" y1="392.10" x2="3933.52" y2="394.30" stroke="#444" stroke-width="0.8"/>
<text transform="translate(3932.32,403.60) rotate(-35)" font-size="11.0" fill="#000" text-anchor="end">OpenAI GPT-5 medium</text>
<text x="3610.40" y="380.21" font-size="10.9" font-weight="bold" fill="#fff" text-anchor="middle">1</text>
<text x="3656.56" y="380.21" font-size="10.9" font-weight="bold" fill="#fff" text-anchor="middle">1</text>
<text x="3702.72" y="380.21" font-size="10.9" font-weight="bold" fill="#fff" text-anchor="middle">1</text>
<text x="3702.72" y="349.01" font-size="10.9" font-weight="bold" fill="#000" text-anchor="middle">1</text>
<text x="3748.88" y="380.21" font-size="10.9" font-weight="bold" fill="#fff" text-anchor="middle">1</text>
<text x="3748.88" y="349.01" font-size="10.9" font-weight="bold" fill="#000" text-anchor="middle">1</text>
<text x="3795.04" y="380.21" font-size="10.9" font-weight="bold" fill="#000" text-anchor="middle">1</text>
<text x="3795.04" y="345.41" font-size="10.9" font-weight="bold" fill="#fff" text-anchor="middle">2</text>
<text x="3841.20" y="380.21" font-size="10.9" font-weight="bold" fill="#fff" text-anchor="middle">1</text>
<text x="3841.20" y="349.01" font-size="10.9" font-weight="bold" fill="#000" text-anchor="middle">1</text>
<text x="3841.20" y="317.81" font-size="10.9" font-weight="bold" fill="#000" text-anchor="middle">1</text>
<text x="3887.36" y="380.21" font-size="10.9" font-weight="bold" fill="#fff" text-anchor="middle">1</text>
<text x="3887.36" y="345.41" font-size="10.9" font-weight="bold" fill="#000" text-anchor="middle">2</text>
<text x="3887.36" y="307.01" font-size="10.9" font-weight="bold" fill="#000" text-anchor="middle">2</text>
<text x="3933.52" y="380.21" font-size="10.9" font-weight="bold" fill="#fff" text-anchor="middle">1</text>
<text x="3933.52" y="334.61" font-size="10.9" font-weight="bold" fill="#fff" text-anchor="middle">5</text>
<text x="3933.52" y="281.81" font-size="10.9" font-weight="bold" fill="#000" text-anchor="middle">3</text>
<text x="3933.52" y="243.41" font-size="10.9" font-weight="bold" fill="#000" text-anchor="middle">1</text>
<text x="3933.52" y="208.61" font-size="10.9" font-weight="bold" fill="#fff" text-anchor="middle">2</text>
<rect x="3579.30" y="148.40" width="385.80" height="243.70" fill="none" stroke="#666" stroke-width="1.0"/>
<text transform="translate(3575.50,270.25) rotate(-90)" font-size="10.9" fill="#000" text-anchor="middle">Uniquely solved tasks by model</text>
<rect x="3972.80" y="148.40" width="92.90" height="98.40" rx="2" fill="#fff" stroke="#dcdcdc" stroke-width="0.9"/>
<text x="4019.25" y="161.20" font-size="10.9" fill="#000" text-anchor="middle">Complexity</text>
<rect x="3976.80" y="170.00" width="22.50" height="7.80" fill="#28a745"/>
<text x="4008.30" y="177.82" font-size="10.9" fill="#000">Very easy</text>
<rect x="3976.80" y="186.00" width="22.50" height="7.80" fill="#17a2b8"/>
<text x="4008.30" y="193.82" font-size="10.9" fill="#000">Easy</text>
<rect x="3976.80" y="202.00" width="22.50" height="7.80" fill="#ffc107"/>
<text x="4008.30" y="209.82" font-size="10.9" fill="#000">Medium</text>
<rect x="3976.80" y="218.00" width="22.50" height="7.80" fill="#fd7e14"/>
<text x="4008.30" y="225.82" font-size="10.9" fill="#000">Hard</text>
<rect x="3976.80" y="234.00" width="22.50" height="7.80" fill="#dc3545"/>
<text x="4008.30" y="241.82" font-size="10.9" fill="#000">Very hard</text>
<rect x="3556.95" y="918.92" width="19.50" height="14.38" fill="#ffc107" stroke="#fff" stroke-width="1.0"/>
<text x="3566.70" y="913.72" font-size="12.4" font-weight="bold" fill="#000" text-anchor="middle">1</text>
<line x1="3566.70" y1="933.30" x2="3566.70" y2="935.50" stroke="#444" stroke-width="0.8"/>
<text transform="translate(3565.50,945.30) rotate(-35)" font-size="11.6" fill="#000" text-anchor="end">Grok 3</text>
<rect x="3588.95" y="918.92" width="19.50" height="14.38" fill="#28a745" stroke="#fff" stroke-width="1.0"/>
<text x="3598.70" y="913.72" font-size="12.4" font-weight="bold" fill="#000" text-anchor="middle">1</text>
<line x1="3598.70" y1="933.30" x2="3598.70" y2="935.50" stroke="#444" stroke-width="0.8"/>
<text transform="translate(3597.50,945.30) rotate(-35)" font-size="11.6" fill="#000" text-anchor="end">MamayLM 9b</text>
<rect x="3620.95" y="918.92" width="19.50" height="14.38" fill="#28a745" stroke="#fff" stroke-width="1.0"/>
<rect x="3620.95" y="904.54" width="19.50" height="14.38" fill="#17a2b8" stroke="#fff" stroke-width="1.0"/>
<rect x="3620.95" y="883.53" width="19.50" height="21.01" fill="#fd7e14" stroke="#fff" stroke-width="1.0"/>
<text x="3630.70" y="878.33" font-size="12.4" font-weight="bold" fill="#000" text-anchor="middle">5</text>
<line x1="3630.70" y1="933.30" x2="3630.70" y2="935.50" stroke="#444" stroke-width="0.8"/>
<text transform="translate(3629.50,945.30) rotate(-35)" font-size="11.6" fill="#000" text-anchor="end">Grok 4</text>
<rect x="3652.95" y="918.92" width="19.50" height="14.38" fill="#28a745" stroke="#fff" stroke-width="1.0"/>
<rect x="3652.95" y="904.54" width="19.50" height="14.38" fill="#17a2b8" stroke="#fff" stroke-width="1.0"/>
<rect x="3652.95" y="886.85" width="19.50" height="17.70" fill="#ffc107" stroke="#fff" stroke-width="1.0"/>
<rect x="3652.95" y="872.47" width="19.50" height="14.38" fill="#fd7e14" stroke="#fff" stroke-width="1.0"/>
<text x="3662.70" y="867.27" font-size="12.4" font-weight="bold" fill="#000" text-anchor="middle">5</text>
<line x1="3662.70" y1="933.30" x2="3662.70" y2="935.50" stroke="#444" stroke-width="0.8"/>
<text transform="translate(3661.50,945.30) rotate(-35)" font-size="11.6" fill="#000" text-anchor="end">GPT-OSS-120b medium</text>
<rect x="3684.95" y="905.65" width="19.50" height="27.65" fill="#28a745" stroke="#fff" stroke-width="1.0"/>
<rect x="3684.95" y="891.27" width="19.50" height="14.38" fill="#17a2b8" stroke="#fff" stroke-width="1.0"/>
<rect x="3684.95" y="876.89" width="19.50" height="14.38" fill="#ffc107" stroke="#fff" stroke-width="1.0"/>
<text x="3694.70" y="871.69" font-size="12.4" font-weight="bold" fill="#000" text-anchor="middle">7</text>
<line x1="3694.70" y1="933.30" x2="3694.70" y2="935.50" stroke="#444" stroke-width="0.8"/>
<text transform="translate(3693.50,945.30) rotate(-35)" font-size="11.6" fill="#000" text-anchor="end">Gemma-3-27b-it</text>
<rect x="3716.95" y="918.92" width="19.50" height="14.38" fill="#28a745" stroke="#fff" stroke-width="1.0"/>
<rect x="3716.95" y="901.23" width="19.50" height="17.70" fill="#17a2b8" stroke="#fff" stroke-width="1.0"/>
<rect x="3716.95" y="886.85" width="19.50" height="14.38" fill="#ffc107" stroke="#fff" stroke-width="1.0"/>
<rect x="3716.95" y="865.83" width="19.50" height="21.01" fill="#fd7e14" stroke="#fff" stroke-width="1.0"/>
<text x="3726.70" y="860.63" font-size="12.4" font-weight="bold" fill="#000" text-anchor="middle">7</text>
<line x1="3726.70" y1="933.30" x2="3726.70" y2="935.50" stroke="#444" stroke-width="0.8"/>
<text transform="translate(3725.50,945.30) rotate(-35)" font-size="11.6" fill="#000" text-anchor="end">GPT-OSS-20b low</text>
<rect x="3748.95" y="918.92" width="19.50" height="14.38" fill="#17a2b8" stroke="#fff" stroke-width="1.0"/>
<rect x="3748.95" y="901.23" width="19.50" height="17.70" fill="#ffc107" stroke="#fff" stroke-width="1.0"/>
<rect x="3748.95" y="876.89" width="19.50" height="24.33" fill="#fd7e14" stroke="#fff" stroke-width="1.0"/>
<text x="3758.70" y="871.69" font-size="12.4" font-weight="bold" fill="#000" text-anchor="middle">7</text>
<line x1="3758.70" y1="933.30" x2="3758.70" y2="935.50" stroke="#444" stroke-width="0.8"/>
<text transform="translate(3757.50,945.30) rotate(-35)" font-size="11.6" fill="#000" text-anchor="end">GPT-OSS-120b low</text>
<rect x="3780.95" y="918.92" width="19.50" height="14.38" fill="#28a745" stroke="#fff" stroke-width="1.0"/>
<rect x="3780.95" y="894.59" width="19.50" height="24.33" fill="#17a2b8" stroke="#fff" stroke-width="1.0"/>
<rect x="3780.95" y="873.58" width="19.50" height="21.01" fill="#ffc107" stroke="#fff" stroke-width="1.0"/>
<rect x="3780.95" y="855.88" width="19.50" height="17.70" fill="#fd7e14" stroke="#fff" stroke-width="1.0"/>
<rect x="3780.95" y="841.50" width="19.50" height="14.38" fill="#dc3545" stroke="#fff" stroke-width="1.0"/>
<text x="3790.70" y="836.30" font-size="12.4" font-weight="bold" fill="#000" text-anchor="middle">11</text>
<line x1="3790.70" y1="933.30" x2="3790.70" y2="935.50" stroke="#444" stroke-width="0.8"/>
<text transform="translate(3789.50,945.30) rotate(-35)" font-size="11.6" fill="#000" text-anchor="end">Claude Opus 4</text>
<rect x="3812.95" y="915.60" width="19.50" height="17.70" fill="#28a745" stroke="#fff" stroke-width="1.0"/>
<rect x="3812.95" y="882.42" width="19.50" height="33.18" fill="#17a2b8" stroke="#fff" stroke-width="1.0"/>
<rect x="3812.95" y="864.73" width="19.50" height="17.70" fill="#ffc107" stroke="#fff" stroke-width="1.0"/>
<rect x="3812.95" y="843.71" width="19.50" height="21.01" fill="#fd7e14" stroke="#fff" stroke-width="1.0"/>
<rect x="3812.95" y="829.34" width="19.50" height="14.38" fill="#dc3545" stroke="#fff" stroke-width="1.0"/>
<text x="3822.70" y="824.14" font-size="12.4" font-weight="bold" fill="#000" text-anchor="middle">14</text>
<line x1="3822.70" y1="933.30" x2="3822.70" y2="935.50" stroke="#444" stroke-width="0.8"/>
<text transform="translate(3821.50,945.30) rotate(-35)" font-size="11.6" fill="#000" text-anchor="end">DeepSeek-R1-0528</text>
<rect x="3844.95" y="915.60" width="19.50" height="17.70" fill="#17a2b8" stroke="#fff" stroke-width="1.0"/>
<rect x="3844.95" y="901.23" width="19.50" height="14.38" fill="#ffc107" stroke="#fff" stroke-width="1.0"/>
<rect x="3844.95" y="876.89" width="19.50" height="24.33" fill="#fd7e14" stroke="#fff" stroke-width="1.0"/>
<rect x="3844.95" y="832.65" width="19.50" height="44.24" fill="#dc3545" stroke="#fff" stroke-width="1.0"/>
<text x="3854.70" y="827.45" font-size="12.4" font-weight="bold" fill="#000" text-anchor="middle">15</text>
<line x1="3854.70" y1="933.30" x2="3854.70" y2="935.50" stroke="#444" stroke-width="0.8"/>
<text transform="translate(3853.50,945.30) rotate(-35)" font-size="11.6" fill="#000" text-anchor="end">OpenAI GPT-5 medium</text>
<rect x="3876.95" y="900.12" width="19.50" height="33.18" fill="#28a745" stroke="#fff" stroke-width="1.0"/>
<rect x="3876.95" y="875.79" width="19.50" height="24.33" fill="#17a2b8" stroke="#fff" stroke-width="1.0"/>
<rect x="3876.95" y="854.77" width="19.50" height="21.01" fill="#ffc107" stroke="#fff" stroke-width="1.0"/>
<rect x="3876.95" y="833.76" width="19.50" height="21.01" fill="#fd7e14" stroke="#fff" stroke-width="1.0"/>
<rect x="3876.95" y="812.75" width="19.50" height="21.01" fill="#dc3545" stroke="#fff" stroke-width="1.0"/>
<text x="3886.70" y="807.55" font-size="12.4" font-weight="bold" fill="#000" text-anchor="middle">19</text>
<line x1="3886.70" y1="933.30" x2="3886.70" y2="935.50" stroke="#444" stroke-width="0.8"/>
<text transform="translate(3885.50,945.30) rotate(-35)" font-size="11.6" fill="#000" text-anchor="end">GPT-OSS-20b medium</text>
<rect x="3908.95" y="872.47" width="19.50" height="60.83" fill="#28a745" stroke="#fff" stroke-width="1.0"/>
<rect x="3908.95" y="839.29" width="19.50" height="33.18" fill="#17a2b8" stroke="#fff" stroke-width="1.0"/>
<rect x="3908.95" y="800.58" width="19.50" height="38.71" fill="#ffc107" stroke="#fff" stroke-width="1.0"/>
<rect x="3908.95" y="786.20" width="19.50" height="14.38" fill="#fd7e14" stroke="#fff" stroke-width="1.0"/>
<text x="3918.70" y="781.00" font-size="12.4" font-weight="bold" fill="#000" text-anchor="middle">25</text>
<line x1="3918.70" y1="933.30" x2="3918.70" y2="935.50" stroke="#444" stroke-width="0.8"/>
<text transform="translate(3917.50,945.30) rotate(-35)" font-size="11.6" fill="#000" text-anchor="end">Gemini 2.5 pro</text>
<rect x="3940.95" y="883.53" width="19.50" height="49.77" fill="#28a745" stroke="#fff" stroke-width="1.0"/>
<rect x="3940.95" y="850.35" width="19.50" height="33.18" fill="#17a2b8" stroke="#fff" stroke-width="1.0"/>
<rect x="3940.95" y="832.65" width="19.50" height="17.70" fill="#ffc107" stroke="#fff" stroke-width="1.0"/>
<rect x="3940.95" y="799.47" width="19.50" height="33.18" fill="#fd7e14" stroke="#fff" stroke-width="1.0"/>
<rect x="3940.95" y="771.82" width="19.50" height="27.65" fill="#dc3545" stroke="#fff" stroke-width="1.0"/>
<text x="3950.70" y="766.62" font-size="12.4" font-weight="bold" fill="#000" text-anchor="middle">28</text>
<line x1="3950.70" y1="933.30" x2="3950.70" y2="935.50" stroke="#444" stroke-width="0.8"/>
<text transform="translate(3949.50,945.30) rotate(-35)" font-size="11.6" fill="#000" text-anchor="end">OpenAI o4-mini medium</text>
<rect x="3972.95" y="894.59" width="19.50" height="38.71" fill="#28a745" stroke="#fff" stroke-width="1.0"/>
<rect x="3972.95" y="806.11" width="19.50" height="88.48" fill="#17a2b8" stroke="#fff" stroke-width="1.0"/>
<rect x="3972.95" y="728.69" width="19.50" height="77.42" fill="#ffc107" stroke="#fff" stroke-width="1.0"/>
<rect x="3972.95" y="714.31" width="19.50" height="14.38" fill="#fd7e14" stroke="#fff" stroke-width="1.0"/>
<rect x="3972.95" y="681.13" width="19.50" height="33.18" fill="#dc3545" stroke="#fff" stroke-width="1.0"/>
<text x="3982.70" y="675.93" font-size="12.4" font-weight="bold" fill="#000" text-anchor="middle">44</text>
<line x1="3982.70" y1="933.30" x2="3982.70" y2="935.50" stroke="#444" stroke-width="0.8"/>
<text transform="translate(3981.50,945.30) rotate(-35)" font-size="11.6" fill="#000" text-anchor="end">OpenAI o3 medium</text>
<text x="3566.70" y="929.58" font-size="10.2" font-weight="bold" fill="#000" text-anchor="middle">1</text>
<text x="3598.70" y="929.58" font-size="10.2" font-weight="bold" fill="#fff" text-anchor="middle">1</text>
<text x="3630.70" y="929.58" font-size="10.2" font-weight="bold" fill="#fff" text-anchor="middle">1</text>
<text x="3630.70" y="915.20" font-size="10.2" font-weight="bold" fill="#fff" text-anchor="middle">1</text>
<text x="3630.70" y="897.50" font-size="10.2" font-weight="bold" fill="#000" text-anchor="middle">3</text>
<text x="3662.70" y="929.58" font-size="10.2" font-weight="bold" fill="#fff" text-anchor="middle">1</text>
<text x="3662.70" y="915.20" font-size="10.2" font-weight="bold" fill="#fff" text-anchor="middle">1</text>
<text x="3662.70" y="899.16" font-size="10.2" font-weight="bold" fill="#000" text-anchor="middle">2</text>
<text x="3662.70" y="883.13" font-size="10.2" font-weight="bold" fill="#000" text-anchor="middle">1</text>
<text x="3694.70" y="922.94" font-size="10.2" font-weight="bold" fill="#fff" text-anchor="middle">5</text>
<text x="3694.70" y="901.93" font-size="10.2" font-weight="bold" fill="#fff" text-anchor="middle">1</text>
<text x="3694.70" y="887.55" font-size="10.2" font-weight="bold" fill="#000" text-anchor="middle">1</text>
<text x="3726.70" y="929.58" font-size="10.2" font-weight="bold" fill="#fff" text-anchor="middle">1</text>
<text x="3726.70" y="913.54" font-size="10.2" font-weight="bold" fill="#fff" text-anchor="middle">2</text>
<text x="3726.70" y="897.50" font-size="10.2" font-weight="bold" fill="#000" text-anchor="middle">1</text>
<text x="3726.70" y="879.81" font-size="10.2" font-weight="bold" fill="#000" text-anchor="middle">3</text>
<text x="3758.70" y="929.58" font-size="10.2" font-weight="bold" fill="#fff" text-anchor="middle">1</text>
<text x="3758.70" y="913.54" font-size="10.2" font-weight="bold" fill="#000" text-anchor="middle">2</text>
<text x="3758.70" y="892.53" font-size="10.2" font-weight="bold" fill="#000" text-anchor="middle">4</text>
<text x="3790.70" y="929.58" font-size="10.2" font-weight="bold" fill="#fff" text-anchor="middle">1</text>
<text x="3790.70" y="910.22" font-size="10.2" font-weight="bold" fill="#fff" text-anchor="middle">4</text>
<text x="3790.70" y="887.55" font-size="10.2" font-weight="bold" fill="#000" text-anchor="middle">3</text>
<text x="3790.70" y="868.20" font-size="10.2" font-weight="bold" fill="#000" text-anchor="middle">2</text>
<text x="3790.70" y="852.16" font-size="10.2" font-weight="bold" fill="#fff" text-anchor="middle">1</text>
<text x="3822.70" y="927.92" font-size="10.2" font-weight="bold" fill="#fff" text-anchor="middle">2</text>
<text x="3822.70" y="902.48" font-size="10.2" font-weight="bold" fill="#fff" text-anchor="middle">6</text>
<text x="3822.70" y="877.04" font-size="10.2" font-weight="bold" fill="#000" text-anchor="middle">2</text>
<text x="3822.70" y="857.69" font-size="10.2" font-weight="bold" fill="#000" text-anchor="middle">3</text>
<text x="3822.70" y="839.99" font-size="10.2" font-weight="bold" fill="#fff" text-anchor="middle">1</text>
<text x="3854.70" y="927.92" font-size="10.2" font-weight="bold" fill="#fff" text-anchor="middle">2</text>
<text x="3854.70" y="911.88" font-size="10.2" font-weight="bold" fill="#000" text-anchor="middle">1</text>
<text x="3854.70" y="892.53" font-size="10.2" font-weight="bold" fill="#000" text-anchor="middle">4</text>
<text x="3854.70" y="858.24" font-size="10.2" font-weight="bold" fill="#fff" text-anchor="middle">8</text>
<text x="3886.70" y="920.18" font-size="10.2" font-weight="bold" fill="#fff" text-anchor="middle">6</text>
<text x="3886.70" y="891.42" font-size="10.2" font-weight="bold" fill="#fff" text-anchor="middle">4</text>
<text x="3886.70" y="868.75" font-size="10.2" font-weight="bold" fill="#000" text-anchor="middle">3</text>
<text x="3886.70" y="847.74" font-size="10.2" font-weight="bold" fill="#000" text-anchor="middle">3</text>
<text x="3886.70" y="826.72" font-size="10.2" font-weight="bold" fill="#fff" text-anchor="middle">3</text>
<text x="3918.70" y="906.35" font-size="10.2" font-weight="bold" fill="#fff" text-anchor="middle">11</text>
<text x="3918.70" y="859.35" font-size="10.2" font-weight="bold" fill="#fff" text-anchor="middle">6</text>
<text x="3918.70" y="823.40" font-size="10.2" font-weight="bold" fill="#000" text-anchor="middle">7</text>
<text x="3918.70" y="796.86" font-size="10.2" font-weight="bold" fill="#000" text-anchor="middle">1</text>
<text x="3950.70" y="911.88" font-size="10.2" font-weight="bold" fill="#fff" text-anchor="middle">9</text>
<text x="3950.70" y="870.41" font-size="10.2" font-weight="bold" fill="#fff" text-anchor="middle">6</text>
<text x="3950.70" y="844.97" font-size="10.2" font-weight="bold" fill="#000" text-anchor="middle">2</text>
<text x="3950.70" y="819.53" font-size="10.2" font-weight="bold" fill="#000" text-anchor="middle">6</text>
<text x="3950.70" y="789.12" font-size="10.2" font-weight="bold" fill="#fff" text-anchor="middle">5</text>
<text x="3982.70" y="917.41" font-size="10.2" font-weight="bold" fill="#fff" text-anchor="middle">7</text>
<text x="3982.70" y="853.82" font-size="10.2" font-weight="bold" fill="#fff" text-anchor="middle">16</text>
<text x="3982.70" y="770.87" font-size="10.2" font-weight="bold" fill="#000" text-anchor="middle">14</text>
<text x="3982.70" y="724.97" font-size="10.2" font-weight="bold" fill="#000" text-anchor="middle">1</text>
<text x="3982.70" y="701.19" font-size="10.2" font-weight="bold" fill="#fff" text-anchor="middle">6</text>
<rect x="3535.10" y="635.30" width="479.30" height="298.00" fill="none" stroke="#666" stroke-width="1.0"/>
<text transform="translate(3531.00,784.30) rotate(-90)" font-size="11.57" fill="#000" text-anchor="middle">Accepted solutions with top-1 execution time</text>
<rect x="4023.70" y="635.30" width="88.10" height="95.30" rx="2" fill="#fff" stroke="#dcdcdc" stroke-width="0.9"/>
<text x="4067.75" y="647.60" font-size="10.4" fill="#000" text-anchor="middle">Complexity</text>
<rect x="4027.70" y="656.05" width="21.50" height="7.50" fill="#28a745"/>
<text x="4057.20" y="663.54" font-size="10.4" fill="#000">Very easy</text>
<rect x="4027.70" y="671.35" width="21.50" height="7.50" fill="#17a2b8"/>
<text x="4057.20" y="678.84" font-size="10.4" fill="#000">Easy</text>
<rect x="4027.70" y="686.65" width="21.50" height="7.50" fill="#ffc107"/>
<text x="4057.20" y="694.14" font-size="10.4" fill="#000">Medium</text>
<rect x="4027.70" y="701.95" width="21.50" height="7.50" fill="#fd7e14"/>
<text x="4057.20" y="709.44" font-size="10.4" fill="#000">Hard</text>
<rect x="4027.70" y="717.25" width="21.50" height="7.50" fill="#dc3545"/>
<text x="4057.20" y="724.74" font-size="10.4" fill="#000">Very hard</text>
</svg>
<div class="l" style="top:51.77px;font-size:14.250px;left:80.60px;"><span style="letter-spacing:0.095px">Syromiatnikov M. V., Ruvinskaya V. M.</span></div>
<div class="l" style="top:51.77px;font-size:14.250px;left:334.60px;">/</div>
<div class="l" style="top:51.77px;font-size:14.250px;left:359.90px;">Informatics. Culture. Technique. 2025; Vol 2: 308&#8211;314</div>
<div class="l" style="top:51.77px;font-size:14.250px;left:928.60px;"><span style="letter-spacing:0.095px">Syromiatnikov M. V., Ruvinskaya V. M.</span></div>
<div class="l" style="top:51.77px;font-size:14.250px;left:1182.60px;">/</div>
<div class="l" style="top:51.77px;font-size:14.250px;left:1207.90px;">Informatics. Culture. Technique. 2025; Vol 2: 308&#8211;314</div>
<div class="l" style="top:1085.77px;font-size:14.250px;left:937.00px;">2</div>
<div class="l" style="top:1085.77px;font-size:14.250px;left:1140.50px;">Software Engineering and Data Science</div>
<div class="l" style="top:1085.77px;font-size:14.250px;right:2629.80px;text-align:right;">ISSN 2522-1523 (Online)</div>
<div class="l" style="top:51.77px;font-size:14.250px;left:1776.60px;"><span style="letter-spacing:0.095px">Syromiatnikov M. V., Ruvinskaya V. M.</span></div>
<div class="l" style="top:51.77px;font-size:14.250px;left:2030.60px;">/</div>
<div class="l" style="top:51.77px;font-size:14.250px;left:2055.90px;">Informatics. Culture. Technique. 2025; Vol 2: 308&#8211;314</div>
<div class="l" style="top:1085.77px;font-size:14.250px;left:1785.00px;">3</div>
<div class="l" style="top:1085.77px;font-size:14.250px;left:1988.50px;">Software Engineering and Data Science</div>
<div class="l" style="top:1085.77px;font-size:14.250px;right:1781.80px;text-align:right;">ISSN 2522-1523 (Online)</div>
<div class="l" style="top:51.77px;font-size:14.250px;left:2624.60px;"><span style="letter-spacing:0.095px">Syromiatnikov M. V., Ruvinskaya V. M.</span></div>
<div class="l" style="top:51.77px;font-size:14.250px;left:2878.60px;">/</div>
<div class="l" style="top:51.77px;font-size:14.250px;left:2903.90px;">Informatics. Culture. Technique. 2025; Vol 2: 308&#8211;314</div>
<div class="l" style="top:1085.77px;font-size:14.250px;left:2633.00px;">4</div>
<div class="l" style="top:1085.77px;font-size:14.250px;left:2836.50px;">Software Engineering and Data Science</div>
<div class="l" style="top:1085.77px;font-size:14.250px;right:933.80px;text-align:right;">ISSN 2522-1523 (Online)</div>
<div class="l" style="top:51.77px;font-size:14.250px;left:3472.60px;"><span style="letter-spacing:0.095px">Syromiatnikov M. V., Ruvinskaya V. M.</span></div>
<div class="l" style="top:51.77px;font-size:14.250px;left:3726.60px;">/</div>
<div class="l" style="top:51.77px;font-size:14.250px;left:3751.90px;">Informatics. Culture. Technique. 2025; Vol 2: 308&#8211;314</div>
<div class="l" style="top:1085.77px;font-size:14.250px;left:3481.00px;">5</div>
<div class="l" style="top:1085.77px;font-size:14.250px;left:3684.50px;">Software Engineering and Data Science</div>
<div class="l" style="top:1085.77px;font-size:14.250px;right:85.80px;text-align:right;">ISSN 2522-1523 (Online)</div>
<div class="l" style="top:87.77px;font-size:15.675px;left:80.80px;"><b>DOI: https://doi.org/10.15276/ict.02.2025.47</b></div>
<div class="l" style="top:106.07px;font-size:15.675px;left:80.80px;"><b>UDC 004.8</b></div>
<div class="l" style="top:133.59px;font-size:19.950px;left:-175.35px;width:1200px;text-align:center;"><b>UA-Code-Bench: A Competitive Programming Benchmark for Evaluating LLM</b></div>
<div class="l" style="top:155.79px;font-size:19.950px;left:-175.35px;width:1200px;text-align:center;"><b>Code Generation in Ukrainian</b></div>
<div class="l" style="top:186.97px;font-size:15.675px;right:3472.60px;text-align:right;"><b>Mykyta V. Syromiatnikov<span class="sup">1)</span></b></div>
<div class="l" style="top:205.47px;font-size:14.250px;right:3472.60px;text-align:right;">Postgraduate Student of the Department of Software Engineering</div>
<div class="l" style="top:221.27px;font-size:14.250px;right:3472.60px;text-align:right;">ORCID: orcid.org/0000-0002-0610-3639; nik.syromyatnikov@gmail.com</div>
<div class="l" style="top:237.37px;font-size:15.675px;right:3472.60px;text-align:right;"><b>Victoria M. Ruvinskaya<span class="sup">1)</span></b></div>
<div class="l" style="top:255.97px;font-size:14.250px;right:3472.60px;text-align:right;">PhD, Professor of the Department of Software Engineering</div>
<div class="l" style="top:271.87px;font-size:14.250px;right:3472.60px;text-align:right;">ORCID: orcid.org/0000-0002-7243-5535; ruvinska@op.edu.ua</div>
<div class="l" style="top:287.77px;font-size:14.250px;right:3472.60px;text-align:right;"><span class="sup">1)</span> Odesa Polytechnic National University, 1, Shevchenko Ave. Odesa, 65044, Ukraine</div>
<div class="l" style="top:321.87px;font-size:15.675px;left:-175.85px;width:1200px;text-align:center;"><b>ABSTRACT</b></div>
<div class="l" style="top:354.16px;font-size:12.825px;left:111.10px;word-spacing:-0.176px;">Evaluating the real capabilities of large language models in low-resource languages still represents a challenge, as many existing</div>
<div class="l" style="top:368.89px;font-size:12.825px;left:80.80px;word-spacing:-0.098px;">benchmarks focus on widespread tasks translated from English or evaluate only simple language understanding. This paper introduces</div>
<div class="l" style="top:383.62px;font-size:12.825px;left:80.80px;word-spacing:2.126px;">UA-Code-Bench, a new open-source benchmark established for a thorough evaluation of language models' code generation and</div>
<div class="l" style="top:398.35px;font-size:12.825px;left:80.80px;word-spacing:-0.139px;">competitive programming problem-solving abilities in Ukrainian. The benchmark comprises 500 problems from the Eolymp platform,</div>
<div class="l" style="top:413.08px;font-size:12.825px;left:80.80px;word-spacing:0.339px;">evenly distributed across five complexity levels from very easy to very hard. A diverse set of 13 leading proprietary and open-source</div>
<div class="l" style="top:427.81px;font-size:12.825px;left:80.80px;word-spacing:-0.149px;">models, generating Python solutions based on a one-shot prompt, was evaluated via the dedicated Eolymp environment against hidden</div>
<div class="l" style="top:442.54px;font-size:12.825px;left:80.80px;word-spacing:0.710px;">tests, ensuring code correctness. The obtained results reveal that even top-performing models, such as OpenAI o3 and GPT-5, solve</div>
<div class="l" style="top:457.27px;font-size:12.825px;left:80.80px;word-spacing:0.336px;">only half of the problems, highlighting the challenge of code generation in low-resource natural language. Furthermore, this research</div>
<div class="l" style="top:472.00px;font-size:12.825px;left:80.80px;word-spacing:-0.166px;">presents a comprehensive analysis of performance across various difficulty levels, as well as an assessment of solution uniqueness and</div>
<div class="l" style="top:486.73px;font-size:12.825px;left:80.80px;word-spacing:-0.441px;">computational efficiency, measured by both elapsed time and memory consumption of the generated solutions. In conclusion, this work</div>
<div class="l" style="top:501.46px;font-size:12.825px;left:80.80px;word-spacing:0.248px;">demonstrates the value of competitive programming benchmarks in evaluating large language models, especially in underrepresented</div>
<div class="l" style="top:516.19px;font-size:12.825px;left:80.80px;">languages. It also paves the way for future research on multilingual code generation and reasoning-enhanced models.</div>
<div class="l" style="top:530.92px;font-size:12.825px;left:111.10px;"><b>Keywords:</b> large language model; code generation; benchmark; competitive programming; Ukrainian language</div>
<div class="l" style="top:566.03px;font-size:17.100px;left:111.10px;word-spacing:2.638px;"><b>Introduction.</b> Large language models (LLMs), especially LLM-powered assistants, are now</div>
<div class="l" style="top:585.70px;font-size:17.100px;left:80.80px;word-spacing:0.081px;">common tools in both general and expert work. Hundreds of millions use them for search, guidance,</div>
<div class="l" style="top:605.37px;font-size:17.100px;left:80.80px;word-spacing:0.205px;">analysis, and everyday automation. Nowadays, even coding, which seemed to be an overly complex</div>
<div class="l" style="top:625.04px;font-size:17.100px;left:80.80px;word-spacing:5.354px;">task before, is no longer a stopper for modern reasoning models that turn natural-language</div>
<div class="l" style="top:644.71px;font-size:17.100px;left:80.80px;word-spacing:0.331px;">specifications into working code, build or refactor systems, write tests, and even review code. Tools</div>
<div class="l" style="top:664.38px;font-size:17.100px;left:80.80px;word-spacing:-0.206px;">like GitHub Copilot improve productivity (up to a 55% reduction in task completion time) and lower</div>
<div class="l" style="top:684.05px;font-size:17.100px;left:80.80px;word-spacing:0.862px;">mental load for 73% of developers on repetitive coding tasks [1]. This indicates strong demand for</div>
<div class="l" style="top:703.72px;font-size:17.100px;left:80.80px;">AI assistance across various domains.</div>
<div class="l" style="top:723.39px;font-size:17.100px;left:111.10px;word-spacing:2.711px;">Despite these successes, most code generation benchmarks and validations have focused on</div>
<div class="l" style="top:743.06px;font-size:17.100px;left:80.80px;word-spacing:1.789px;">problems described in English. Moreover, the studies have shown that LLM performance in low-</div>
<div class="l" style="top:762.73px;font-size:17.100px;left:80.80px;word-spacing:1.584px;">resource languages degrades substantially on high-precision tasks [2]. However, the field of LLM</div>
<div class="l" style="top:782.40px;font-size:17.100px;left:80.80px;word-spacing:0.787px;">benchmarking in the Ukrainian language mainly consists of standard datasets with trivial tasks like</div>
<div class="l" style="top:802.07px;font-size:17.100px;left:80.80px;word-spacing:-0.693px;">classification or question answering, as well as translated English evaluation sets. In addition, the rule</div>
<div class="l" style="top:821.74px;font-size:17.100px;left:80.80px;word-spacing:0.435px;">of thumb is that the quality of the input directly influences the obtained result. For instance, when a</div>
<div class="l" style="top:841.41px;font-size:17.100px;left:80.80px;word-spacing:-0.265px;">student or engineer poses a coding challenge in the relatively low-resource Ukrainian language, even</div>
<div class="l" style="top:861.08px;font-size:17.100px;left:80.80px;word-spacing:-0.600px;">advanced code assistants may fail to respond, effectively forcing users to translate their problems into</div>
<div class="l" style="top:880.75px;font-size:17.100px;left:80.80px;word-spacing:-0.303px;">English, which is not always exact and slows work, widening the gap with English speakers. Support</div>
<div class="l" style="top:900.42px;font-size:17.100px;left:80.80px;">for local languages is therefore also about fairness and access.</div>
<div class="l" style="top:920.09px;font-size:17.100px;left:111.10px;word-spacing:-0.601px;">To close the gap, this work aims to establish UA-Code-Bench &#8211; a first Ukrainian language-native</div>
<div class="l" style="top:939.76px;font-size:17.100px;left:80.80px;word-spacing:1.068px;">code generation benchmark, enabling rigorous evaluation of LLM code generation correctness and</div>
<div class="l" style="top:959.43px;font-size:17.100px;left:80.80px;">efficiency on competitive programming tasks. This includes the following tasks:</div>
<div class="l" style="top:979.10px;font-size:17.100px;left:111.10px;word-spacing:5.360px;">- building, for the first time to our knowledge, a large-scale Ukrainian code-generation</div>
<div class="l" style="top:998.77px;font-size:17.100px;left:80.80px;">benchmark with programming tasks of different complexities sampled from the Eolymp platform;</div>
<div class="l" style="top:1037.27px;font-size:14.250px;left:81.20px;">This is an open access article under the CC BY license (https://creativecommons.org/licenses/by/4.0/deed.uk)</div>
<div class="l" style="top:1081.67px;font-size:14.250px;left:89.80px;">1</div>
<div class="l" style="top:1080.97px;font-size:15.675px;left:129.30px;">Data and code: <span class="lnk">https://huggingface.co/datasets/NLPForUA/ua-code-bench</span></div>
<div class="l" style="top:1102.97px;font-size:15.675px;left:129.30px;">Website: <span class="lnk">https://uallm.org/code-evaluation</span></div>
<div class="l" style="top:1081.67px;font-size:14.250px;right:3477.80px;text-align:right;">ISSN 2522-1523 (Online)</div>
<div class="l" style="top:87.78px;font-size:17.100px;left:959.10px;word-spacing:-0.412px;">- evaluating modern open and proprietary LLMs, with their correctness assessed using test suites</div>
<div class="l" style="top:107.45px;font-size:17.100px;left:928.80px;">from competitive-programming platforms such as Eolymp;</div>
<div class="l" style="top:127.12px;font-size:17.100px;left:959.10px;">- analyzing overall and per-difficulty performance, as well as memory/latency trade-offs.</div>
<div class="l" style="top:146.79px;font-size:17.100px;left:959.10px;word-spacing:0.438px;">These steps shall provide insights into which models excel or struggle, and why, shedding light</div>
<div class="l" style="top:166.46px;font-size:17.100px;left:928.80px;">on the current limitations of AI in competitive coding and low-resource language understanding.</div>
<div class="l" style="top:186.13px;font-size:17.100px;left:959.10px;word-spacing:2.710px;"><b>Related works.</b> Automatic code generation has progressed through several phases of active</div>
<div class="l" style="top:205.80px;font-size:17.100px;left:928.80px;word-spacing:-0.012px;">development. Early 2000s systems were rule-based, fully transparent at a cost of poor generalization</div>
<div class="l" style="top:225.47px;font-size:17.100px;left:928.80px;word-spacing:3.085px;">and evaluated by code-quality metrics such as cyclomatic complexity. Later, statistical machine</div>
<div class="l" style="top:245.14px;font-size:17.100px;left:928.80px;word-spacing:-0.571px;">learning redefined the task as probabilistic modeling, shifting evaluation toward similarity scores like</div>
<div class="l" style="top:264.81px;font-size:17.100px;left:928.80px;word-spacing:-0.786px;">BLEU. Pre-LLM neural methods yielded narrow tools like NL2Bash for short command synthesis [3]</div>
<div class="l" style="top:284.48px;font-size:17.100px;left:928.80px;word-spacing:1.760px;">and code search from natural-language queries [4]. Invention of Transformer architecture enabled</div>
<div class="l" style="top:304.15px;font-size:17.100px;left:928.80px;word-spacing:0.739px;">large-scale pretraining and tuning, leading to LLMs for code like Codex and AlphaCode, alongside</div>
<div class="l" style="top:323.82px;font-size:17.100px;left:928.80px;">open efforts such as StarCoder and compact open-weight families (CodeGemma, QwenCoder).</div>
<div class="l" style="top:343.49px;font-size:17.100px;left:959.10px;word-spacing:-0.613px;">As Transformer-based models have grown more powerful, the benchmarking side of the research</div>
<div class="l" style="top:363.16px;font-size:17.100px;left:928.80px;word-spacing:-0.303px;">has evolved from somewhat na&#239;ve similarity-based metrics to metrics that evaluate the correctness of</div>
<div class="l" style="top:382.83px;font-size:17.100px;left:928.80px;word-spacing:0.792px;">generated solutions. HumanEval and MBPP standardized unit-test metrics (e.g., pass@k measuring</div>
<div class="l" style="top:402.50px;font-size:17.100px;left:928.80px;word-spacing:0.235px;">if any of those k solutions pass all unit tests) on short English prompts [5, 6]. APPS raised difficulty</div>
<div class="l" style="top:422.17px;font-size:17.100px;left:928.80px;word-spacing:0.350px;">with tasks of varying complexity, from one-liners to substantial algorithmic challenges, and showed</div>
<div class="l" style="top:441.84px;font-size:17.100px;left:928.80px;word-spacing:-0.499px;">early large models solved only a small fraction of easy problems [7], motivating stronger approaches.</div>
<div class="l" style="top:461.51px;font-size:17.100px;left:928.80px;word-spacing:5.051px;">Benchmarks like HumanEval, MBPP, and APPS primarily focused on isolated self-contained</div>
<div class="l" style="top:481.18px;font-size:17.100px;left:928.80px;word-spacing:-0.784px;">functions, while a day-to-day software development requires a lot more. To match real software work,</div>
<div class="l" style="top:500.85px;font-size:17.100px;left:928.80px;">SWE-bench moved from single functions to fixing issues in large codebases [8].</div>
<div class="l" style="top:520.52px;font-size:17.100px;left:959.10px;word-spacing:0.501px;">The big problem with static benchmarks is that models may have been inadvertently trained on</div>
<div class="l" style="top:540.19px;font-size:17.100px;left:928.80px;word-spacing:0.334px;">solutions widely available online. Fresh works are mitigating the issue, continuously collecting new</div>
<div class="l" style="top:559.86px;font-size:17.100px;left:928.80px;">problems (LiveCodeBench) [9] and evaluating on a set of private test cases (CodeElo) [10].</div>
<div class="l" style="top:579.53px;font-size:17.100px;left:959.10px;word-spacing:2.564px;">While being methodologically superior, existing competitive programming benchmarks have</div>
<div class="l" style="top:599.20px;font-size:17.100px;left:928.80px;word-spacing:3.858px;">focused exclusively on high-resource languages, such as English, leaving a critical gap in the</div>
<div class="l" style="top:618.87px;font-size:17.100px;left:928.80px;word-spacing:-0.711px;">evaluation of low-resource languages. At the same time, HumanEval-XL indicates that even powerful</div>
<div class="l" style="top:638.54px;font-size:17.100px;left:928.80px;word-spacing:0.438px;">models like GPT-4 perform markedly worse in languages with less training data available [2], often</div>
<div class="l" style="top:658.21px;font-size:17.100px;left:928.80px;">called low-resource languages, such as Ukrainian.</div>
<div class="l" style="top:677.88px;font-size:17.100px;left:959.10px;word-spacing:-0.433px;">In recent years, the Ukrainian NLP community has made significant contributions by developing</div>
<div class="l" style="top:697.55px;font-size:17.100px;left:928.80px;word-spacing:-0.724px;">evaluation resources. ZNO-Eval provides a benchmark for assessing the general capabilities of LLMs</div>
<div class="l" style="top:717.22px;font-size:17.100px;left:928.80px;word-spacing:-0.881px;">using tasks from standardized national school exams [11], and follow-up studies focused on reasoning</div>
<div class="l" style="top:736.89px;font-size:17.100px;left:928.80px;word-spacing:0.776px;">models [12]. ZNO-Vision, in turn, extended text-only evaluation on school exams with multimodal</div>
<div class="l" style="top:756.56px;font-size:17.100px;left:928.80px;word-spacing:-0.785px;">understanding [13]. UAlign was introduced to evaluate the ethical alignment in a cultural context [14].</div>
<div class="l" style="top:776.23px;font-size:17.100px;left:959.10px;word-spacing:1.535px;">This growing ecosystem of benchmarks is crucial for the development of Ukrainian language</div>
<div class="l" style="top:795.90px;font-size:17.100px;left:928.80px;word-spacing:2.144px;">models. However, a dedicated resource for evaluating code generation capabilities has long been</div>
<div class="l" style="top:815.57px;font-size:17.100px;left:928.80px;">absent. This underscores the novelty of UA-Code-Bench, designed to fill the gap.</div>
<div class="l" style="top:835.24px;font-size:17.100px;left:959.10px;word-spacing:2.590px;"><b>Benchmark methodology</b>. UA-Code-Bench is built from Eolymp, a widely used Ukrainian</div>
<div class="l" style="top:854.91px;font-size:17.100px;left:928.80px;word-spacing:3.784px;">platform with Ukrainian-language statements and hidden test cases evaluated by an automated</div>
<div class="l" style="top:874.58px;font-size:17.100px;left:928.80px;word-spacing:1.179px;">judging system. The benchmark contains 500 sampled problems, evenly split across five difficulty</div>
<div class="l" style="top:894.25px;font-size:17.100px;left:928.80px;word-spacing:2.223px;">bands (from very easy to very hard) assigned by Eolymp based on algorithmic demands, coding</div>
<div class="l" style="top:913.92px;font-size:17.100px;left:928.80px;word-spacing:1.757px;">intricacy, and typical acceptance rate. Lower bands cover basic math, text processing, and simple</div>
<div class="l" style="top:933.59px;font-size:17.100px;left:928.80px;word-spacing:1.678px;">control flow. Medium items often combine several algorithms. Hard and very hard mirror contest</div>
<div class="l" style="top:953.26px;font-size:17.100px;left:928.80px;word-spacing:0.325px;">problems and require not only intricate reasoning but also efficient implementations for large inputs</div>
<div class="l" style="top:972.93px;font-size:17.100px;left:928.80px;">under strict time and memory constraints.</div>
<div class="l" style="top:992.60px;font-size:17.100px;left:959.10px;word-spacing:2.962px;">Thirteen leading LLMs, proprietary and open-weight, general-purpose and code-specialized,</div>
<div class="l" style="top:1012.27px;font-size:17.100px;left:928.80px;word-spacing:1.955px;">were evaluated in a one-shot setting. Each prompt contained one Ukrainian example plus a short</div>
<div class="l" style="top:1031.94px;font-size:17.100px;left:928.80px;word-spacing:1.737px;">correct solution to guide the model on the expected input and output formats. For every task, the</div>
<div class="l" style="top:1051.61px;font-size:17.100px;left:928.80px;word-spacing:1.959px;">model produced a single solution without retries under a 30-minute timeout, using recommended</div>
<div class="l" style="top:87.78px;font-size:17.100px;left:1776.80px;word-spacing:0.592px;">sampling parameters with low temperature (0-0.2). The programming language was set to Python 3</div>
<div class="l" style="top:107.45px;font-size:17.100px;left:1776.80px;">for solution generation.</div>
<div class="l" style="top:127.12px;font-size:17.100px;left:1807.10px;word-spacing:1.235px;">To judge solution correctness, an automated submission tool was implemented. In a dedicated</div>
<div class="l" style="top:146.79px;font-size:17.100px;left:1776.80px;word-spacing:1.560px;">space with a seat purchased for each model, this tool submitted code to the Eolymp judge, which</div>
<div class="l" style="top:166.46px;font-size:17.100px;left:1776.80px;word-spacing:0.745px;">executed it against private tests. A submission was accepted only if all tests passed, wrong answers</div>
<div class="l" style="top:186.13px;font-size:17.100px;left:1776.80px;word-spacing:-0.480px;">earned partial credit, while exceptions, timeouts, or runtime failures counted as failures. Two primary</div>
<div class="l" style="top:205.80px;font-size:17.100px;left:1776.80px;word-spacing:-0.516px;">metrics were used: pass@1 (accepted if 100% of hidden tests pass) and average score (0 to 100). Five</div>
<div class="l" style="top:225.47px;font-size:17.100px;left:1776.80px;word-spacing:0.721px;">secondary indicators complemented them: TOO (tasks uniquely solved by a model), T1T (accepted</div>
<div class="l" style="top:245.14px;font-size:17.100px;left:1776.80px;word-spacing:1.813px;">solutions with the smallest worst-case execution time), T1M (same as T1T, but for memory), GE</div>
<div class="l" style="top:264.81px;font-size:17.100px;left:1776.80px;word-spacing:0.840px;">(generation failure, including timeout/invalid or incomplete code), and EE (compile/runtime error).</div>
<div class="l" style="top:284.48px;font-size:17.100px;left:1776.80px;word-spacing:1.614px;">The benchmark, data parsing, preparation, code generation, and evaluation scripts are available at</div>
<div class="l" style="top:304.15px;font-size:17.100px;left:1776.80px;"><u>https://huggingface.co/datasets/NLPForUA/ua-code-bench</u>.</div>
<div class="l" style="top:323.82px;font-size:17.100px;left:1807.10px;word-spacing:-0.586px;"><b>Results and Analysis</b>. During evaluation, it was discovered that out of 500 problems, 14 (1 hard,</div>
<div class="l" style="top:343.49px;font-size:17.100px;left:1776.80px;">13 very hard) failed due to grader issues and were removed. Table 1 presents evaluation results.</div>
<div class="l" style="top:382.88px;font-size:17.100px;left:1520.15px;width:1200px;text-align:center;"><i>Table 1</i>. <b>Overall code generation result per model (486 tasks total): TOO &#8211; number of tasks</b></div>
<div class="l" style="top:402.78px;font-size:17.100px;left:1520.15px;width:1200px;text-align:center;"><b>uniquely solved by a model; T1T &#8211; number of accepted solutions with the smallest worst-case</b></div>
<div class="l" style="top:422.68px;font-size:17.100px;left:1520.15px;width:1200px;text-align:center;"><b>execution time; T1M &#8211; same as T1T, but for memory consumption; GE &#8211; generation error;</b></div>
<div class="l" style="top:442.58px;font-size:17.100px;left:1520.15px;width:1200px;text-align:center;"><b>EE &#8211; execution error.</b></div>
<div class="l" style="top:882.98px;font-size:17.100px;left:1818.20px;word-spacing:1.411px;">The top group, with OpenAI o3 (246 accepted), OpenAI GPT-5 (244), and OpenAI o4-mini</div>
<div class="l" style="top:902.65px;font-size:17.100px;left:1776.80px;word-spacing:-0.451px;">(238), all with medium reasoning effort, substantially outperforms the others. However, even the best</div>
<div class="l" style="top:922.32px;font-size:17.100px;left:1776.80px;word-spacing:3.817px;">system leaves 242 tasks unsolved. About half of all problems (mainly hard/very hard) remain</div>
<div class="l" style="top:941.99px;font-size:17.100px;left:1776.80px;word-spacing:-0.288px;">unsolved by any model. Figure 1 shows per-difficulty stats, and Figure 2 visualizes the average score</div>
<div class="l" style="top:961.66px;font-size:17.100px;left:1776.80px;word-spacing:0.135px;">per model, accounting for partially correct solutions, which pass some, but not all, of the hidden test</div>
<div class="l" style="top:981.33px;font-size:17.100px;left:1776.80px;word-spacing:1.008px;">cases. As Figures 1-2 show, the performance drops sharply as task complexity moves from easy to</div>
<div class="l" style="top:1001.00px;font-size:17.100px;left:1776.80px;word-spacing:2.822px;">hard. This indicates that while many models can perform direct translation of simple Ukrainian</div>
<div class="l" style="top:1020.67px;font-size:17.100px;left:1776.80px;word-spacing:-0.284px;">instructions into code, they lack the deep algorithmic reasoning. In general, the obtained results align</div>
<div class="l" style="top:1040.34px;font-size:17.100px;left:1776.80px;">with model size and prior English-benchmark results [15].</div>
<div class="l" style="top:520.18px;font-size:17.100px;left:2368.15px;width:1200px;text-align:center;"><i>Fig. 1</i>. <b>Number of accepted solutions per model, broken down by problem difficulty. Each bar</b></div>
<div class="l" style="top:539.88px;font-size:17.100px;left:2368.15px;width:1200px;text-align:center;"><b>sums to the total solved by that model (max 486). Bars are distorted on y-axis for readability</b></div>
<div class="l" style="top:1036.88px;font-size:17.100px;left:2368.15px;width:1200px;text-align:center;"><i>Fig. 2</i>. <b>Average scores for the task per model, broken down by problem difficulty. Each bar</b></div>
<div class="l" style="top:1056.18px;font-size:17.100px;left:2368.15px;width:1200px;text-align:center;"><b>represents the average score by model (max 100). Bars are distorted on y-axis for readability</b></div>
<div class="l" style="top:87.78px;font-size:17.100px;left:3503.10px;word-spacing:0.686px;">An important indicator of a model&#8217;s advanced reasoning is its ability to solve problems that no</div>
<div class="l" style="top:107.45px;font-size:17.100px;left:3472.80px;">other model can. Figure 3 presents a chart of how many tasks were uniquely solved by each model.</div>
<div class="l" style="top:495.38px;font-size:17.100px;left:3216.15px;width:1200px;text-align:center;"><i>Fig. 3</i>. <b>Distribution of uniquely solved tasks by model and complexity</b></div>
<div class="l" style="top:534.58px;font-size:17.100px;left:3503.10px;word-spacing:1.602px;">The standout performer in this category is GPT-5 with 12 unique tasks. The small number of</div>
<div class="l" style="top:554.25px;font-size:17.100px;left:3472.80px;word-spacing:-1.084px;">unique solutions indicates heavy overlap, as LLMs tend to succeed on the same set of simple problems.</div>
<div class="l" style="top:573.92px;font-size:17.100px;left:3503.10px;word-spacing:0.011px;">In competitive programming, a correct solution is often insufficient. Fig. 4 and Fig. 5 present an</div>
<div class="l" style="top:593.59px;font-size:17.100px;left:3472.80px;">analysis of accepted submissions with smallest worst-case execution time and memory.</div>
<div class="l" style="top:1037.08px;font-size:17.100px;left:3216.15px;width:1200px;text-align:center;"><i>Fig. 4</i>. <b>Number of accepted solutions with the smallest worst-case execution time (bars are</b></div>
<div class="l" style="top:1056.78px;font-size:17.100px;left:3216.15px;width:1200px;text-align:center;"><b>distorted on y-axis for readability)</b></div>
<div class="l" style="top:514.84px;font-size:15.675px;left:1781.00px;">MamayLM 9b</div>
<div class="l" style="top:514.84px;font-size:15.675px;left:1404.00px;width:1200px;text-align:center;">9</div>
<div class="l" style="top:514.84px;font-size:15.675px;left:1479.80px;width:1200px;text-align:center;">16</div>
<div class="l" style="top:514.84px;font-size:15.675px;left:1560.45px;width:1200px;text-align:center;">11,97</div>
<div class="l" style="top:514.84px;font-size:15.675px;left:1627.00px;width:1200px;text-align:center;">0</div>
<div class="l" style="top:514.84px;font-size:15.675px;left:1679.75px;width:1200px;text-align:center;">1</div>
<div class="l" style="top:514.84px;font-size:15.675px;left:1732.40px;width:1200px;text-align:center;">3</div>
<div class="l" style="top:514.84px;font-size:15.675px;left:1784.80px;width:1200px;text-align:center;">1</div>
<div class="l" style="top:514.84px;font-size:15.675px;left:1837.20px;width:1200px;text-align:center;">36</div>
<div class="l" style="top:538.21px;font-size:15.675px;left:1781.00px;">GPT-OSS-20b low</div>
<div class="l" style="top:538.21px;font-size:15.675px;left:1404.00px;width:1200px;text-align:center;">20</div>
<div class="l" style="top:538.21px;font-size:15.675px;left:1479.80px;width:1200px;text-align:center;">158</div>
<div class="l" style="top:538.21px;font-size:15.675px;left:1560.45px;width:1200px;text-align:center;">50,81</div>
<div class="l" style="top:538.21px;font-size:15.675px;left:1627.00px;width:1200px;text-align:center;">0</div>
<div class="l" style="top:538.21px;font-size:15.675px;left:1679.75px;width:1200px;text-align:center;">7</div>
<div class="l" style="top:538.21px;font-size:15.675px;left:1732.40px;width:1200px;text-align:center;">10</div>
<div class="l" style="top:538.21px;font-size:15.675px;left:1784.80px;width:1200px;text-align:center;">2</div>
<div class="l" style="top:538.21px;font-size:15.675px;left:1837.20px;width:1200px;text-align:center;">20</div>
<div class="l" style="top:561.58px;font-size:15.675px;left:1781.00px;">GPT-OSS-20b medium</div>
<div class="l" style="top:561.58px;font-size:15.675px;left:1404.00px;width:1200px;text-align:center;">20</div>
<div class="l" style="top:561.58px;font-size:15.675px;left:1479.80px;width:1200px;text-align:center;">208</div>
<div class="l" style="top:561.58px;font-size:15.675px;left:1560.45px;width:1200px;text-align:center;">61,50</div>
<div class="l" style="top:561.58px;font-size:15.675px;left:1627.00px;width:1200px;text-align:center;">1</div>
<div class="l" style="top:561.58px;font-size:15.675px;left:1679.75px;width:1200px;text-align:center;">19</div>
<div class="l" style="top:561.58px;font-size:15.675px;left:1732.40px;width:1200px;text-align:center;">10</div>
<div class="l" style="top:561.58px;font-size:15.675px;left:1784.80px;width:1200px;text-align:center;">3</div>
<div class="l" style="top:561.58px;font-size:15.675px;left:1837.20px;width:1200px;text-align:center;">13</div>
<div class="l" style="top:584.95px;font-size:15.675px;left:1781.00px;">Gemma-3-27b-it</div>
<div class="l" style="top:584.95px;font-size:15.675px;left:1404.00px;width:1200px;text-align:center;">27</div>
<div class="l" style="top:584.95px;font-size:15.675px;left:1479.80px;width:1200px;text-align:center;">53</div>
<div class="l" style="top:584.95px;font-size:15.675px;left:1560.45px;width:1200px;text-align:center;">25,70</div>
<div class="l" style="top:584.95px;font-size:15.675px;left:1627.00px;width:1200px;text-align:center;">0</div>
<div class="l" style="top:584.95px;font-size:15.675px;left:1679.75px;width:1200px;text-align:center;">7</div>
<div class="l" style="top:584.95px;font-size:15.675px;left:1732.40px;width:1200px;text-align:center;">6</div>
<div class="l" style="top:584.95px;font-size:15.675px;left:1784.80px;width:1200px;text-align:center;">3</div>
<div class="l" style="top:584.95px;font-size:15.675px;left:1837.20px;width:1200px;text-align:center;">11</div>
<div class="l" style="top:608.32px;font-size:15.675px;left:1781.00px;">Qwen2.5-Coder-32b-Instruct</div>
<div class="l" style="top:608.32px;font-size:15.675px;left:1404.00px;width:1200px;text-align:center;">32</div>
<div class="l" style="top:608.32px;font-size:15.675px;left:1479.80px;width:1200px;text-align:center;">60</div>
<div class="l" style="top:608.32px;font-size:15.675px;left:1560.45px;width:1200px;text-align:center;">26,63</div>
<div class="l" style="top:608.32px;font-size:15.675px;left:1627.00px;width:1200px;text-align:center;">0</div>
<div class="l" style="top:608.32px;font-size:15.675px;left:1679.75px;width:1200px;text-align:center;">0</div>
<div class="l" style="top:608.32px;font-size:15.675px;left:1732.40px;width:1200px;text-align:center;">5</div>
<div class="l" style="top:608.32px;font-size:15.675px;left:1784.80px;width:1200px;text-align:center;"><b>0</b></div>
<div class="l" style="top:608.32px;font-size:15.675px;left:1837.20px;width:1200px;text-align:center;"><b>1</b></div>
<div class="l" style="top:631.69px;font-size:15.675px;left:1781.00px;">GPT-OSS-120b low</div>
<div class="l" style="top:631.69px;font-size:15.675px;left:1404.00px;width:1200px;text-align:center;">120</div>
<div class="l" style="top:631.69px;font-size:15.675px;left:1479.80px;width:1200px;text-align:center;">188</div>
<div class="l" style="top:631.69px;font-size:15.675px;left:1560.45px;width:1200px;text-align:center;">57,66</div>
<div class="l" style="top:631.69px;font-size:15.675px;left:1627.00px;width:1200px;text-align:center;">1</div>
<div class="l" style="top:631.69px;font-size:15.675px;left:1679.75px;width:1200px;text-align:center;">7</div>
<div class="l" style="top:631.69px;font-size:15.675px;left:1732.40px;width:1200px;text-align:center;">3</div>
<div class="l" style="top:631.69px;font-size:15.675px;left:1784.80px;width:1200px;text-align:center;">11</div>
<div class="l" style="top:631.69px;font-size:15.675px;left:1837.20px;width:1200px;text-align:center;">2</div>
<div class="l" style="top:655.06px;font-size:15.675px;left:1781.00px;">GPT-OSS-120b medium</div>
<div class="l" style="top:655.06px;font-size:15.675px;left:1404.00px;width:1200px;text-align:center;">120</div>
<div class="l" style="top:655.06px;font-size:15.675px;left:1479.80px;width:1200px;text-align:center;">219</div>
<div class="l" style="top:655.06px;font-size:15.675px;left:1560.45px;width:1200px;text-align:center;">65,99</div>
<div class="l" style="top:655.06px;font-size:15.675px;left:1627.00px;width:1200px;text-align:center;">2</div>
<div class="l" style="top:655.06px;font-size:15.675px;left:1679.75px;width:1200px;text-align:center;">5</div>
<div class="l" style="top:655.06px;font-size:15.675px;left:1732.40px;width:1200px;text-align:center;">6</div>
<div class="l" style="top:655.06px;font-size:15.675px;left:1784.80px;width:1200px;text-align:center;">3</div>
<div class="l" style="top:655.06px;font-size:15.675px;left:1837.20px;width:1200px;text-align:center;">3</div>
<div class="l" style="top:678.43px;font-size:15.675px;left:1781.00px;">DeepSeek-R1-0528</div>
<div class="l" style="top:678.43px;font-size:15.675px;left:1404.00px;width:1200px;text-align:center;">671</div>
<div class="l" style="top:678.43px;font-size:15.675px;left:1479.80px;width:1200px;text-align:center;">198</div>
<div class="l" style="top:678.43px;font-size:15.675px;left:1560.45px;width:1200px;text-align:center;">61,33</div>
<div class="l" style="top:678.43px;font-size:15.675px;left:1627.00px;width:1200px;text-align:center;">0</div>
<div class="l" style="top:678.43px;font-size:15.675px;left:1679.75px;width:1200px;text-align:center;">14</div>
<div class="l" style="top:678.43px;font-size:15.675px;left:1732.40px;width:1200px;text-align:center;">6</div>
<div class="l" style="top:678.43px;font-size:15.675px;left:1784.80px;width:1200px;text-align:center;">15</div>
<div class="l" style="top:678.43px;font-size:15.675px;left:1837.20px;width:1200px;text-align:center;">3</div>
<div class="l" style="top:701.80px;font-size:15.675px;left:1781.00px;">Grok 3</div>
<div class="l" style="top:701.80px;font-size:15.675px;left:1404.00px;width:1200px;text-align:center;">N/A</div>
<div class="l" style="top:701.80px;font-size:15.675px;left:1479.80px;width:1200px;text-align:center;">96</div>
<div class="l" style="top:701.80px;font-size:15.675px;left:1560.45px;width:1200px;text-align:center;">40,48</div>
<div class="l" style="top:701.80px;font-size:15.675px;left:1627.00px;width:1200px;text-align:center;">1</div>
<div class="l" style="top:701.80px;font-size:15.675px;left:1679.75px;width:1200px;text-align:center;">1</div>
<div class="l" style="top:701.80px;font-size:15.675px;left:1732.40px;width:1200px;text-align:center;">18</div>
<div class="l" style="top:701.80px;font-size:15.675px;left:1784.80px;width:1200px;text-align:center;"><b>0</b></div>
<div class="l" style="top:701.80px;font-size:15.675px;left:1837.20px;width:1200px;text-align:center;">2</div>
<div class="l" style="top:725.17px;font-size:15.675px;left:1781.00px;">Grok 4</div>
<div class="l" style="top:725.17px;font-size:15.675px;left:1404.00px;width:1200px;text-align:center;">N/A</div>
<div class="l" style="top:725.17px;font-size:15.675px;left:1479.80px;width:1200px;text-align:center;">172</div>
<div class="l" style="top:725.17px;font-size:15.675px;left:1560.45px;width:1200px;text-align:center;">45,91</div>
<div class="l" style="top:725.17px;font-size:15.675px;left:1627.00px;width:1200px;text-align:center;">2</div>
<div class="l" style="top:725.17px;font-size:15.675px;left:1679.75px;width:1200px;text-align:center;">5</div>
<div class="l" style="top:725.17px;font-size:15.675px;left:1732.40px;width:1200px;text-align:center;">21</div>
<div class="l" style="top:725.17px;font-size:15.675px;left:1784.80px;width:1200px;text-align:center;">190</div>
<div class="l" style="top:725.17px;font-size:15.675px;left:1837.20px;width:1200px;text-align:center;">2</div>
<div class="l" style="top:748.54px;font-size:15.675px;left:1781.00px;">Claude Opus 4</div>
<div class="l" style="top:748.54px;font-size:15.675px;left:1404.00px;width:1200px;text-align:center;">N/A</div>
<div class="l" style="top:748.54px;font-size:15.675px;left:1479.80px;width:1200px;text-align:center;">158</div>
<div class="l" style="top:748.54px;font-size:15.675px;left:1560.45px;width:1200px;text-align:center;">57,51</div>
<div class="l" style="top:748.54px;font-size:15.675px;left:1627.00px;width:1200px;text-align:center;">0</div>
<div class="l" style="top:748.54px;font-size:15.675px;left:1679.75px;width:1200px;text-align:center;">11</div>
<div class="l" style="top:748.54px;font-size:15.675px;left:1732.40px;width:1200px;text-align:center;">17</div>
<div class="l" style="top:748.54px;font-size:15.675px;left:1784.80px;width:1200px;text-align:center;">1</div>
<div class="l" style="top:748.54px;font-size:15.675px;left:1837.20px;width:1200px;text-align:center;">2</div>
<div class="l" style="top:771.91px;font-size:15.675px;left:1781.00px;">Gemini 2.5 pro</div>
<div class="l" style="top:771.91px;font-size:15.675px;left:1404.00px;width:1200px;text-align:center;">N/A</div>
<div class="l" style="top:771.91px;font-size:15.675px;left:1479.80px;width:1200px;text-align:center;">207</div>
<div class="l" style="top:771.91px;font-size:15.675px;left:1560.45px;width:1200px;text-align:center;">61,96</div>
<div class="l" style="top:771.91px;font-size:15.675px;left:1627.00px;width:1200px;text-align:center;">3</div>
<div class="l" style="top:771.91px;font-size:15.675px;left:1679.75px;width:1200px;text-align:center;">25</div>
<div class="l" style="top:771.91px;font-size:15.675px;left:1732.40px;width:1200px;text-align:center;">37</div>
<div class="l" style="top:771.91px;font-size:15.675px;left:1784.80px;width:1200px;text-align:center;">42</div>
<div class="l" style="top:771.91px;font-size:15.675px;left:1837.20px;width:1200px;text-align:center;"><b>1</b></div>
<div class="l" style="top:795.28px;font-size:15.675px;left:1781.00px;">OpenAI o4-mini medium</div>
<div class="l" style="top:795.28px;font-size:15.675px;left:1404.00px;width:1200px;text-align:center;">N/A</div>
<div class="l" style="top:795.28px;font-size:15.675px;left:1479.80px;width:1200px;text-align:center;">238</div>
<div class="l" style="top:795.28px;font-size:15.675px;left:1560.45px;width:1200px;text-align:center;"><b>68,05</b></div>
<div class="l" style="top:795.28px;font-size:15.675px;left:1627.00px;width:1200px;text-align:center;">5</div>
<div class="l" style="top:795.28px;font-size:15.675px;left:1679.75px;width:1200px;text-align:center;">28</div>
<div class="l" style="top:795.28px;font-size:15.675px;left:1732.40px;width:1200px;text-align:center;">19</div>
<div class="l" style="top:795.28px;font-size:15.675px;left:1784.80px;width:1200px;text-align:center;">2</div>
<div class="l" style="top:795.28px;font-size:15.675px;left:1837.20px;width:1200px;text-align:center;">10</div>
<div class="l" style="top:818.65px;font-size:15.675px;left:1781.00px;">OpenAI o3 medium</div>
<div class="l" style="top:818.65px;font-size:15.675px;left:1404.00px;width:1200px;text-align:center;">N/A</div>
<div class="l" style="top:818.65px;font-size:15.675px;left:1479.80px;width:1200px;text-align:center;"><b>246</b></div>
<div class="l" style="top:818.65px;font-size:15.675px;left:1560.45px;width:1200px;text-align:center;">67,60</div>
<div class="l" style="top:818.65px;font-size:15.675px;left:1627.00px;width:1200px;text-align:center;">3</div>
<div class="l" style="top:818.65px;font-size:15.675px;left:1679.75px;width:1200px;text-align:center;"><b>44</b></div>
<div class="l" style="top:818.65px;font-size:15.675px;left:1732.40px;width:1200px;text-align:center;">26</div>
<div class="l" style="top:818.65px;font-size:15.675px;left:1784.80px;width:1200px;text-align:center;">16</div>
<div class="l" style="top:818.65px;font-size:15.675px;left:1837.20px;width:1200px;text-align:center;">2</div>
<div class="l" style="top:842.02px;font-size:15.675px;left:1781.00px;">OpenAI GPT-5 medium</div>
<div class="l" style="top:842.02px;font-size:15.675px;left:1404.00px;width:1200px;text-align:center;">N/A</div>
<div class="l" style="top:842.02px;font-size:15.675px;left:1479.80px;width:1200px;text-align:center;">244</div>
<div class="l" style="top:842.02px;font-size:15.675px;left:1560.45px;width:1200px;text-align:center;">66,50</div>
<div class="l" style="top:842.02px;font-size:15.675px;left:1627.00px;width:1200px;text-align:center;"><b>12</b></div>
<div class="l" style="top:842.02px;font-size:15.675px;left:1679.75px;width:1200px;text-align:center;">15</div>
<div class="l" style="top:842.02px;font-size:15.675px;left:1732.40px;width:1200px;text-align:center;"><b>47</b></div>
<div class="l" style="top:842.02px;font-size:15.675px;left:1784.80px;width:1200px;text-align:center;">57</div>
<div class="l" style="top:842.02px;font-size:15.675px;left:1837.20px;width:1200px;text-align:center;">4</div>
<div class="l" style="top:490.77px;font-size:15.675px;left:1781.00px;"><b>Model</b></div>
<div class="l" style="top:473.17px;font-size:15.675px;left:1404.00px;width:1200px;text-align:center;"><b>Params,</b></div>
<div class="l" style="top:491.27px;font-size:15.675px;left:1404.00px;width:1200px;text-align:center;"><b>billions</b></div>
<div class="l" style="top:473.17px;font-size:15.675px;left:1479.80px;width:1200px;text-align:center;"><b>Accepted</b></div>
<div class="l" style="top:491.27px;font-size:15.675px;left:1479.80px;width:1200px;text-align:center;"><b>solutions</b></div>
<div class="l" style="top:473.17px;font-size:15.675px;left:1560.45px;width:1200px;text-align:center;"><b>Average</b></div>
<div class="l" style="top:491.27px;font-size:15.675px;left:1560.45px;width:1200px;text-align:center;"><b>score (%)</b></div>
<div class="l" style="top:482.47px;font-size:15.675px;left:1627.00px;width:1200px;text-align:center;"><b>TOO</b></div>
<div class="l" style="top:482.47px;font-size:15.675px;left:1679.75px;width:1200px;text-align:center;"><b>T1T</b></div>
<div class="l" style="top:482.47px;font-size:15.675px;left:1732.40px;width:1200px;text-align:center;"><b>T1M</b></div>
<div class="l" style="top:482.47px;font-size:15.675px;left:1784.80px;width:1200px;text-align:center;"><b>GE</b></div>
<div class="l" style="top:482.47px;font-size:15.675px;left:1837.20px;width:1200px;text-align:center;"><b>EE</b></div>
</body></html>
